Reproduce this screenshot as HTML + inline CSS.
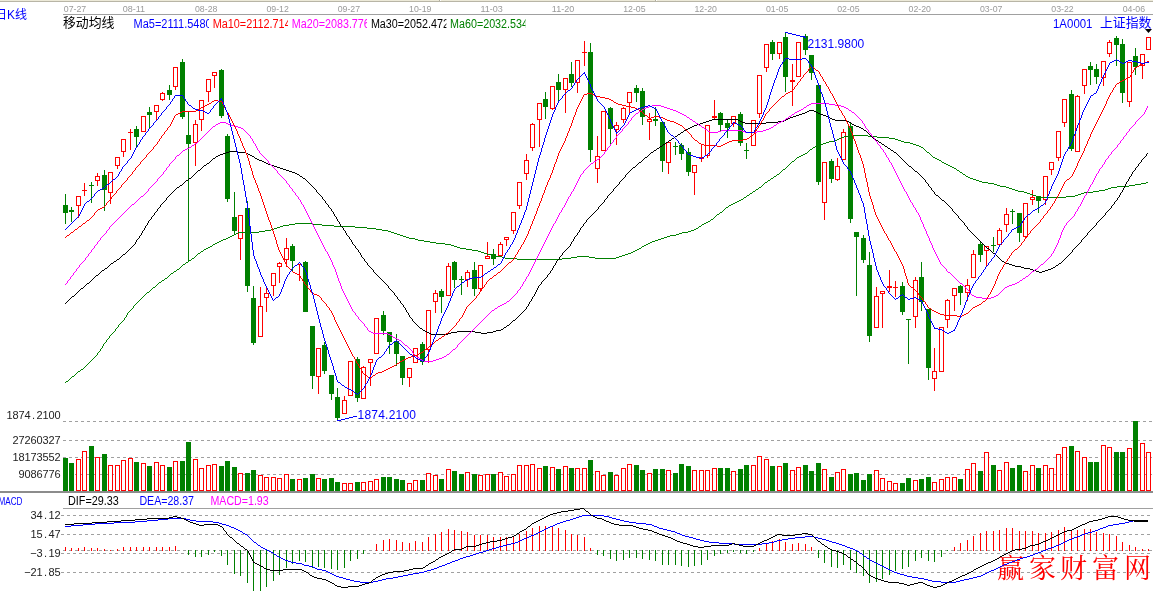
<!DOCTYPE html>
<html><head><meta charset="utf-8"><title>K</title><style>html,body{margin:0;padding:0;background:#fff}svg{display:block;will-change:transform}</style></head><body><svg width="1153" height="592" viewBox="0 0 1153 592" font-family="'Liberation Sans', sans-serif">
<rect width="1153" height="592" fill="#fff"/>
<rect x="0" y="0" width="1153" height="1" fill="#ece9d8"/><rect x="0" y="1" width="1153" height="1" fill="#b8b5a6"/><rect x="439" y="0" width="1" height="1" fill="#b0ad9e"/><rect x="440" y="0" width="1" height="1" fill="#fff"/><rect x="655" y="0" width="1" height="1" fill="#b0ad9e"/><rect x="656" y="0" width="1" height="1" fill="#fff"/>
<text x="63.8" y="12" fill="#9a9a9a" font-size="9.7" text-anchor="start" textLength="22.4" lengthAdjust="spacingAndGlyphs">07-27</text>
<text x="122.7" y="12" fill="#9a9a9a" font-size="9.7" text-anchor="start" textLength="22.4" lengthAdjust="spacingAndGlyphs">08-11</text>
<text x="195" y="12" fill="#9a9a9a" font-size="9.7" text-anchor="start" textLength="22.4" lengthAdjust="spacingAndGlyphs">08-28</text>
<text x="266.4" y="12" fill="#9a9a9a" font-size="9.7" text-anchor="start" textLength="22.4" lengthAdjust="spacingAndGlyphs">09-12</text>
<text x="337.7" y="12" fill="#9a9a9a" font-size="9.7" text-anchor="start" textLength="22.4" lengthAdjust="spacingAndGlyphs">09-27</text>
<text x="409.1" y="12" fill="#9a9a9a" font-size="9.7" text-anchor="start" textLength="22.4" lengthAdjust="spacingAndGlyphs">10-19</text>
<text x="480.4" y="12" fill="#9a9a9a" font-size="9.7" text-anchor="start" textLength="22.4" lengthAdjust="spacingAndGlyphs">11-03</text>
<text x="551.8" y="12" fill="#9a9a9a" font-size="9.7" text-anchor="start" textLength="22.4" lengthAdjust="spacingAndGlyphs">11-20</text>
<text x="623.2" y="12" fill="#9a9a9a" font-size="9.7" text-anchor="start" textLength="22.4" lengthAdjust="spacingAndGlyphs">12-05</text>
<text x="694.5" y="12" fill="#9a9a9a" font-size="9.7" text-anchor="start" textLength="22.4" lengthAdjust="spacingAndGlyphs">12-20</text>
<text x="765.9" y="12" fill="#9a9a9a" font-size="9.7" text-anchor="start" textLength="22.4" lengthAdjust="spacingAndGlyphs">01-05</text>
<text x="837.2" y="12" fill="#9a9a9a" font-size="9.7" text-anchor="start" textLength="22.4" lengthAdjust="spacingAndGlyphs">02-05</text>
<text x="908.6" y="12" fill="#9a9a9a" font-size="9.7" text-anchor="start" textLength="22.4" lengthAdjust="spacingAndGlyphs">02-20</text>
<text x="980" y="12" fill="#9a9a9a" font-size="9.7" text-anchor="start" textLength="22.4" lengthAdjust="spacingAndGlyphs">03-07</text>
<text x="1051.3" y="12" fill="#9a9a9a" font-size="9.7" text-anchor="start" textLength="22.4" lengthAdjust="spacingAndGlyphs">03-22</text>
<text x="1122.7" y="12" fill="#9a9a9a" font-size="9.7" text-anchor="start" textLength="22.4" lengthAdjust="spacingAndGlyphs">04-06</text>
<rect x="63" y="14" width="1090" height="1" fill="#a0a0a0"/>
<svg x="133.1" y="14" width="75.7" height="18" overflow="hidden"><text x="0.5" y="14" textLength="78" lengthAdjust="spacingAndGlyphs" fill="#0000ff" font-size="12">Ma5=2111.5480</text></svg>
<svg x="212.2" y="14" width="75.7" height="18" overflow="hidden"><text x="0.5" y="14" textLength="78" lengthAdjust="spacingAndGlyphs" fill="#ff0000" font-size="12">Ma10=2112.714</text></svg>
<svg x="291.3" y="14" width="75.7" height="18" overflow="hidden"><text x="0.5" y="14" textLength="78" lengthAdjust="spacingAndGlyphs" fill="#ff00ff" font-size="12">Ma20=2083.776</text></svg>
<svg x="370.4" y="14" width="75.7" height="18" overflow="hidden"><text x="0.5" y="14" textLength="78" lengthAdjust="spacingAndGlyphs" fill="#000000" font-size="12">Ma30=2052.472</text></svg>
<svg x="449.5" y="14" width="75.7" height="18" overflow="hidden"><text x="0.5" y="14" textLength="78" lengthAdjust="spacingAndGlyphs" fill="#008000" font-size="12">Ma60=2032.534</text></svg>
<text x="1053" y="27.6" fill="#0000ff" font-size="12.5" text-anchor="start" textLength="39.5" lengthAdjust="spacingAndGlyphs">1A0001</text>
<path d="M1145,29 h7 l-3.5,4 z" fill="#000"/>
<g shape-rendering="crispEdges">
<line x1="63" y1="421.5" x2="1153" y2="421.5" stroke="#a0a0a0" stroke-width="1" stroke-dasharray="3 3"/>
<line x1="63" y1="440.5" x2="1153" y2="440.5" stroke="#a0a0a0" stroke-width="1" stroke-dasharray="3 3"/>
<line x1="63" y1="457.5" x2="1153" y2="457.5" stroke="#a0a0a0" stroke-width="1" stroke-dasharray="3 3"/>
<line x1="63" y1="474.5" x2="1153" y2="474.5" stroke="#a0a0a0" stroke-width="1" stroke-dasharray="3 3"/>
<line x1="61" y1="515.5" x2="1153" y2="515.5" stroke="#a0a0a0" stroke-width="1" stroke-dasharray="3 3"/>
<line x1="61" y1="534.5" x2="1153" y2="534.5" stroke="#a0a0a0" stroke-width="1" stroke-dasharray="3 3"/>
<line x1="61" y1="553.5" x2="1153" y2="553.5" stroke="#a0a0a0" stroke-width="1" stroke-dasharray="3 3"/>
<line x1="61" y1="572.5" x2="1153" y2="572.5" stroke="#a0a0a0" stroke-width="1" stroke-dasharray="3 3"/>
<line x1="63" y1="550.5" x2="1153" y2="550.5" stroke="#a0a0a0" stroke-width="1" stroke-dasharray="3 3"/>
</g>
<g shape-rendering="crispEdges"><rect x="65" y="194" width="1" height="30" fill="#008000"/><rect x="63" y="205" width="5" height="8" fill="#008000"/><rect x="71" y="207" width="1" height="15" fill="#008000"/><rect x="69" y="210" width="5" height="2" fill="#008000"/><rect x="78" y="206" width="1" height="12" fill="#ff0000"/><rect x="76.5" y="196.5" width="4" height="9" fill="#fff" stroke="#ff0000" stroke-width="1"/><rect x="84" y="183" width="1" height="13" fill="#ff0000"/><rect x="82" y="190" width="5" height="1" fill="#ff0000"/><rect x="91" y="182" width="1" height="21" fill="#008000"/><rect x="89" y="185" width="5" height="1" fill="#008000"/><rect x="97" y="173" width="1" height="3" fill="#ff0000"/><rect x="97" y="181" width="1" height="5" fill="#ff0000"/><rect x="95.5" y="176.5" width="4" height="4" fill="#fff" stroke="#ff0000" stroke-width="1"/><rect x="104" y="170" width="1" height="41" fill="#008000"/><rect x="102" y="175" width="5" height="15" fill="#008000"/><rect x="110" y="193" width="1" height="11" fill="#ff0000"/><rect x="108.5" y="172.5" width="4" height="20" fill="#fff" stroke="#ff0000" stroke-width="1"/><rect x="117" y="166" width="1" height="3" fill="#ff0000"/><rect x="115.5" y="157.5" width="4" height="8" fill="#fff" stroke="#ff0000" stroke-width="1"/><rect x="123" y="152" width="1" height="5" fill="#ff0000"/><rect x="121.5" y="139.5" width="4" height="12" fill="#fff" stroke="#ff0000" stroke-width="1"/><rect x="130" y="129" width="1" height="21" fill="#ff0000"/><rect x="128" y="132" width="5" height="1" fill="#ff0000"/><rect x="136" y="126" width="1" height="21" fill="#008000"/><rect x="134" y="129" width="5" height="8" fill="#008000"/><rect x="141.5" y="116.5" width="4" height="15" fill="#fff" stroke="#ff0000" stroke-width="1"/><rect x="149" y="107" width="1" height="21" fill="#008000"/><rect x="147" y="112" width="5" height="3" fill="#008000"/><rect x="156" y="112" width="1" height="9" fill="#ff0000"/><rect x="154.5" y="105.5" width="4" height="6" fill="#fff" stroke="#ff0000" stroke-width="1"/><rect x="162" y="92" width="1" height="1" fill="#ff0000"/><rect x="162" y="100" width="1" height="1" fill="#ff0000"/><rect x="160.5" y="93.5" width="4" height="6" fill="#fff" stroke="#ff0000" stroke-width="1"/><rect x="169" y="85" width="1" height="15" fill="#008000"/><rect x="167" y="90" width="5" height="5" fill="#008000"/><rect x="175" y="87" width="1" height="3" fill="#ff0000"/><rect x="173.5" y="67.5" width="4" height="19" fill="#fff" stroke="#ff0000" stroke-width="1"/><rect x="182" y="59" width="1" height="60" fill="#008000"/><rect x="180" y="62" width="5" height="55" fill="#008000"/><rect x="188" y="111" width="1" height="150" fill="#008000"/><rect x="186" y="135" width="5" height="9" fill="#008000"/><rect x="195" y="120" width="1" height="4" fill="#ff0000"/><rect x="195" y="143" width="1" height="23" fill="#ff0000"/><rect x="193.5" y="124.5" width="4" height="18" fill="#fff" stroke="#ff0000" stroke-width="1"/><rect x="201" y="120" width="1" height="11" fill="#ff0000"/><rect x="199.5" y="100.5" width="4" height="19" fill="#fff" stroke="#ff0000" stroke-width="1"/><rect x="208" y="92" width="1" height="10" fill="#ff0000"/><rect x="206.5" y="79.5" width="4" height="12" fill="#fff" stroke="#ff0000" stroke-width="1"/><rect x="214" y="76" width="1" height="12" fill="#ff0000"/><rect x="212.5" y="72.5" width="4" height="3" fill="#fff" stroke="#ff0000" stroke-width="1"/><rect x="221" y="69" width="1" height="49" fill="#008000"/><rect x="219" y="70" width="5" height="46" fill="#008000"/><rect x="227" y="134" width="1" height="68" fill="#008000"/><rect x="225" y="136" width="5" height="63" fill="#008000"/><rect x="234" y="192" width="1" height="42" fill="#008000"/><rect x="232" y="217" width="5" height="14" fill="#008000"/><rect x="240" y="239" width="1" height="21" fill="#ff0000"/><rect x="238.5" y="215.5" width="4" height="23" fill="#fff" stroke="#ff0000" stroke-width="1"/><rect x="247" y="201" width="1" height="91" fill="#008000"/><rect x="245" y="208" width="5" height="78" fill="#008000"/><rect x="253" y="286" width="1" height="59" fill="#008000"/><rect x="251" y="298" width="5" height="45" fill="#008000"/><rect x="260" y="287" width="1" height="19" fill="#ff0000"/><rect x="258.5" y="306.5" width="4" height="30" fill="#fff" stroke="#ff0000" stroke-width="1"/><rect x="266" y="286" width="1" height="7" fill="#ff0000"/><rect x="266" y="298" width="1" height="14" fill="#ff0000"/><rect x="264.5" y="293.5" width="4" height="4" fill="#fff" stroke="#ff0000" stroke-width="1"/><rect x="273" y="286" width="1" height="10" fill="#ff0000"/><rect x="271.5" y="273.5" width="4" height="12" fill="#fff" stroke="#ff0000" stroke-width="1"/><rect x="279" y="262" width="1" height="1" fill="#ff0000"/><rect x="279" y="267" width="1" height="16" fill="#ff0000"/><rect x="277.5" y="263.5" width="4" height="3" fill="#fff" stroke="#ff0000" stroke-width="1"/><rect x="286" y="238" width="1" height="10" fill="#ff0000"/><rect x="286" y="260" width="1" height="7" fill="#ff0000"/><rect x="284.5" y="248.5" width="4" height="11" fill="#fff" stroke="#ff0000" stroke-width="1"/><rect x="292" y="244" width="1" height="27" fill="#008000"/><rect x="290" y="246" width="5" height="15" fill="#008000"/><rect x="299" y="264" width="1" height="17" fill="#ff0000"/><rect x="297" y="264" width="5" height="1" fill="#ff0000"/><rect x="305" y="261" width="1" height="51" fill="#008000"/><rect x="303" y="262" width="5" height="50" fill="#008000"/><rect x="312" y="326" width="1" height="63" fill="#008000"/><rect x="310" y="326" width="5" height="50" fill="#008000"/><rect x="318" y="377" width="1" height="17" fill="#ff0000"/><rect x="316.5" y="348.5" width="4" height="28" fill="#fff" stroke="#ff0000" stroke-width="1"/><rect x="324" y="342" width="1" height="32" fill="#008000"/><rect x="322" y="345" width="5" height="26" fill="#008000"/><rect x="331" y="375" width="1" height="25" fill="#008000"/><rect x="329" y="375" width="5" height="19" fill="#008000"/><rect x="337" y="388" width="1" height="33" fill="#008000"/><rect x="335" y="397" width="5" height="21" fill="#008000"/><rect x="344" y="396" width="1" height="4" fill="#ff0000"/><rect x="342.5" y="400.5" width="4" height="13" fill="#fff" stroke="#ff0000" stroke-width="1"/><rect x="348.5" y="361.5" width="4" height="34" fill="#fff" stroke="#ff0000" stroke-width="1"/><rect x="357" y="357" width="1" height="45" fill="#008000"/><rect x="355" y="359" width="5" height="39" fill="#008000"/><rect x="363" y="366" width="1" height="1" fill="#ff0000"/><rect x="361.5" y="367.5" width="4" height="31" fill="#fff" stroke="#ff0000" stroke-width="1"/><rect x="370" y="363" width="1" height="23" fill="#ff0000"/><rect x="368.5" y="359.5" width="4" height="3" fill="#fff" stroke="#ff0000" stroke-width="1"/><rect x="374.5" y="318.5" width="4" height="35" fill="#fff" stroke="#ff0000" stroke-width="1"/><rect x="383" y="311" width="1" height="24" fill="#008000"/><rect x="381" y="315" width="5" height="16" fill="#008000"/><rect x="389" y="332" width="1" height="22" fill="#008000"/><rect x="387" y="332" width="5" height="10" fill="#008000"/><rect x="396" y="334" width="1" height="32" fill="#008000"/><rect x="394" y="341" width="5" height="13" fill="#008000"/><rect x="402" y="356" width="1" height="29" fill="#008000"/><rect x="400" y="356" width="5" height="22" fill="#008000"/><rect x="409" y="378" width="1" height="9" fill="#ff0000"/><rect x="407.5" y="368.5" width="4" height="9" fill="#fff" stroke="#ff0000" stroke-width="1"/><rect x="413.5" y="348.5" width="4" height="14" fill="#fff" stroke="#ff0000" stroke-width="1"/><rect x="422" y="342" width="1" height="23" fill="#008000"/><rect x="420" y="344" width="5" height="18" fill="#008000"/><rect x="428" y="350" width="1" height="13" fill="#ff0000"/><rect x="426.5" y="310.5" width="4" height="39" fill="#fff" stroke="#ff0000" stroke-width="1"/><rect x="435" y="290" width="1" height="3" fill="#ff0000"/><rect x="435" y="302" width="1" height="11" fill="#ff0000"/><rect x="433.5" y="293.5" width="4" height="8" fill="#fff" stroke="#ff0000" stroke-width="1"/><rect x="441" y="289" width="1" height="24" fill="#008000"/><rect x="439" y="291" width="5" height="6" fill="#008000"/><rect x="448" y="263" width="1" height="3" fill="#ff0000"/><rect x="446.5" y="266.5" width="4" height="29" fill="#fff" stroke="#ff0000" stroke-width="1"/><rect x="454" y="261" width="1" height="27" fill="#008000"/><rect x="452" y="262" width="5" height="18" fill="#008000"/><rect x="461" y="276" width="1" height="19" fill="#008000"/><rect x="459" y="279" width="5" height="1" fill="#008000"/><rect x="467" y="270" width="1" height="2" fill="#ff0000"/><rect x="467" y="280" width="1" height="7" fill="#ff0000"/><rect x="465.5" y="272.5" width="4" height="7" fill="#fff" stroke="#ff0000" stroke-width="1"/><rect x="474" y="262" width="1" height="34" fill="#008000"/><rect x="472" y="270" width="5" height="19" fill="#008000"/><rect x="480" y="289" width="1" height="3" fill="#ff0000"/><rect x="478.5" y="265.5" width="4" height="23" fill="#fff" stroke="#ff0000" stroke-width="1"/><rect x="487" y="242" width="1" height="14" fill="#ff0000"/><rect x="485.5" y="256.5" width="4" height="2" fill="#fff" stroke="#ff0000" stroke-width="1"/><rect x="493" y="249" width="1" height="16" fill="#008000"/><rect x="491" y="254" width="5" height="5" fill="#008000"/><rect x="500" y="242" width="1" height="2" fill="#ff0000"/><rect x="498.5" y="244.5" width="4" height="11" fill="#fff" stroke="#ff0000" stroke-width="1"/><rect x="506" y="240" width="1" height="6" fill="#ff0000"/><rect x="504.5" y="237.5" width="4" height="2" fill="#fff" stroke="#ff0000" stroke-width="1"/><rect x="513" y="231" width="1" height="3" fill="#ff0000"/><rect x="511.5" y="212.5" width="4" height="18" fill="#fff" stroke="#ff0000" stroke-width="1"/><rect x="519" y="206" width="1" height="3" fill="#ff0000"/><rect x="517.5" y="182.5" width="4" height="23" fill="#fff" stroke="#ff0000" stroke-width="1"/><rect x="526" y="154" width="1" height="6" fill="#ff0000"/><rect x="526" y="174" width="1" height="6" fill="#ff0000"/><rect x="524.5" y="160.5" width="4" height="13" fill="#fff" stroke="#ff0000" stroke-width="1"/><rect x="532" y="123" width="1" height="1" fill="#ff0000"/><rect x="532" y="148" width="1" height="3" fill="#ff0000"/><rect x="530.5" y="124.5" width="4" height="23" fill="#fff" stroke="#ff0000" stroke-width="1"/><rect x="539" y="120" width="1" height="27" fill="#ff0000"/><rect x="537.5" y="103.5" width="4" height="16" fill="#fff" stroke="#ff0000" stroke-width="1"/><rect x="545" y="92" width="1" height="27" fill="#008000"/><rect x="543" y="99" width="5" height="8" fill="#008000"/><rect x="552" y="109" width="1" height="1" fill="#ff0000"/><rect x="550.5" y="86.5" width="4" height="22" fill="#fff" stroke="#ff0000" stroke-width="1"/><rect x="558" y="74" width="1" height="27" fill="#008000"/><rect x="556" y="82" width="5" height="8" fill="#008000"/><rect x="565" y="90" width="1" height="23" fill="#ff0000"/><rect x="563.5" y="78.5" width="4" height="11" fill="#fff" stroke="#ff0000" stroke-width="1"/><rect x="571" y="62" width="1" height="25" fill="#008000"/><rect x="569" y="74" width="5" height="9" fill="#008000"/><rect x="577" y="83" width="1" height="10" fill="#ff0000"/><rect x="575.5" y="60.5" width="4" height="22" fill="#fff" stroke="#ff0000" stroke-width="1"/><rect x="584" y="41" width="1" height="25" fill="#ff0000"/><rect x="582" y="52" width="5" height="1" fill="#ff0000"/><rect x="590" y="43" width="1" height="119" fill="#008000"/><rect x="588" y="52" width="5" height="98" fill="#008000"/><rect x="597" y="136" width="1" height="20" fill="#ff0000"/><rect x="597" y="169" width="1" height="14" fill="#ff0000"/><rect x="595.5" y="156.5" width="4" height="12" fill="#fff" stroke="#ff0000" stroke-width="1"/><rect x="601.5" y="111.5" width="4" height="39" fill="#fff" stroke="#ff0000" stroke-width="1"/><rect x="610" y="107" width="1" height="39" fill="#008000"/><rect x="608" y="108" width="5" height="21" fill="#008000"/><rect x="616" y="122" width="1" height="3" fill="#ff0000"/><rect x="616" y="130" width="1" height="15" fill="#ff0000"/><rect x="614.5" y="125.5" width="4" height="4" fill="#fff" stroke="#ff0000" stroke-width="1"/><rect x="623" y="107" width="1" height="1" fill="#ff0000"/><rect x="623" y="120" width="1" height="3" fill="#ff0000"/><rect x="621.5" y="108.5" width="4" height="11" fill="#fff" stroke="#ff0000" stroke-width="1"/><rect x="629" y="103" width="1" height="10" fill="#ff0000"/><rect x="627.5" y="92.5" width="4" height="10" fill="#fff" stroke="#ff0000" stroke-width="1"/><rect x="636" y="85" width="1" height="17" fill="#008000"/><rect x="634" y="88" width="5" height="5" fill="#008000"/><rect x="642" y="88" width="1" height="37" fill="#008000"/><rect x="640" y="91" width="5" height="26" fill="#008000"/><rect x="649" y="113" width="1" height="6" fill="#ff0000"/><rect x="649" y="122" width="1" height="18" fill="#ff0000"/><rect x="647.5" y="119.5" width="4" height="2" fill="#fff" stroke="#ff0000" stroke-width="1"/><rect x="655" y="107" width="1" height="19" fill="#008000"/><rect x="653" y="119" width="5" height="2" fill="#008000"/><rect x="662" y="122" width="1" height="50" fill="#008000"/><rect x="660" y="122" width="5" height="39" fill="#008000"/><rect x="668" y="163" width="1" height="11" fill="#ff0000"/><rect x="666.5" y="142.5" width="4" height="20" fill="#fff" stroke="#ff0000" stroke-width="1"/><rect x="675" y="142" width="1" height="13" fill="#008000"/><rect x="673" y="146" width="5" height="1" fill="#008000"/><rect x="681" y="143" width="1" height="17" fill="#008000"/><rect x="679" y="145" width="5" height="9" fill="#008000"/><rect x="688" y="148" width="1" height="28" fill="#008000"/><rect x="686" y="152" width="5" height="20" fill="#008000"/><rect x="694" y="173" width="1" height="22" fill="#ff0000"/><rect x="692.5" y="165.5" width="4" height="7" fill="#fff" stroke="#ff0000" stroke-width="1"/><rect x="701" y="145" width="1" height="17" fill="#ff0000"/><rect x="699" y="157" width="5" height="2" fill="#ff0000"/><rect x="707" y="156" width="1" height="2" fill="#ff0000"/><rect x="705.5" y="125.5" width="4" height="30" fill="#fff" stroke="#ff0000" stroke-width="1"/><rect x="714" y="100" width="1" height="19" fill="#ff0000"/><rect x="712" y="116" width="5" height="2" fill="#ff0000"/><rect x="720" y="112" width="1" height="19" fill="#008000"/><rect x="718" y="113" width="5" height="12" fill="#008000"/><rect x="727" y="120" width="1" height="18" fill="#008000"/><rect x="725" y="123" width="5" height="5" fill="#008000"/><rect x="733" y="124" width="1" height="3" fill="#ff0000"/><rect x="731.5" y="116.5" width="4" height="7" fill="#fff" stroke="#ff0000" stroke-width="1"/><rect x="740" y="112" width="1" height="34" fill="#008000"/><rect x="738" y="114" width="5" height="29" fill="#008000"/><rect x="746" y="143" width="1" height="16" fill="#008000"/><rect x="744" y="150" width="5" height="1" fill="#008000"/><rect x="751.5" y="120.5" width="4" height="25" fill="#fff" stroke="#ff0000" stroke-width="1"/><rect x="759" y="114" width="1" height="4" fill="#ff0000"/><rect x="757.5" y="75.5" width="4" height="38" fill="#fff" stroke="#ff0000" stroke-width="1"/><rect x="766" y="68" width="1" height="4" fill="#ff0000"/><rect x="764.5" y="44.5" width="4" height="23" fill="#fff" stroke="#ff0000" stroke-width="1"/><rect x="772" y="40" width="1" height="20" fill="#008000"/><rect x="770" y="42" width="5" height="12" fill="#008000"/><rect x="779" y="54" width="1" height="5" fill="#ff0000"/><rect x="777.5" y="42.5" width="4" height="11" fill="#fff" stroke="#ff0000" stroke-width="1"/><rect x="785" y="32" width="1" height="60" fill="#008000"/><rect x="783" y="37" width="5" height="40" fill="#008000"/><rect x="792" y="64" width="1" height="42" fill="#ff0000"/><rect x="790" y="80" width="5" height="2" fill="#ff0000"/><rect x="796.5" y="42.5" width="4" height="34" fill="#fff" stroke="#ff0000" stroke-width="1"/><rect x="805" y="34" width="1" height="21" fill="#008000"/><rect x="803" y="36" width="5" height="14" fill="#008000"/><rect x="811" y="55" width="1" height="25" fill="#008000"/><rect x="809" y="55" width="5" height="18" fill="#008000"/><rect x="818" y="85" width="1" height="100" fill="#008000"/><rect x="816" y="85" width="5" height="97" fill="#008000"/><rect x="824" y="203" width="1" height="17" fill="#ff0000"/><rect x="822.5" y="162.5" width="4" height="40" fill="#fff" stroke="#ff0000" stroke-width="1"/><rect x="831" y="159" width="1" height="24" fill="#008000"/><rect x="829" y="161" width="5" height="18" fill="#008000"/><rect x="837" y="158" width="1" height="8" fill="#ff0000"/><rect x="837" y="180" width="1" height="1" fill="#ff0000"/><rect x="835.5" y="166.5" width="4" height="13" fill="#fff" stroke="#ff0000" stroke-width="1"/><rect x="843" y="129" width="1" height="3" fill="#ff0000"/><rect x="841.5" y="132.5" width="4" height="27" fill="#fff" stroke="#ff0000" stroke-width="1"/><rect x="850" y="123" width="1" height="100" fill="#008000"/><rect x="848" y="126" width="5" height="93" fill="#008000"/><rect x="856" y="232" width="1" height="64" fill="#008000"/><rect x="854" y="232" width="5" height="5" fill="#008000"/><rect x="863" y="235" width="1" height="28" fill="#008000"/><rect x="861" y="238" width="5" height="22" fill="#008000"/><rect x="869" y="252" width="1" height="90" fill="#008000"/><rect x="867" y="265" width="5" height="71" fill="#008000"/><rect x="876" y="287" width="1" height="9" fill="#ff0000"/><rect x="874.5" y="296.5" width="4" height="31" fill="#fff" stroke="#ff0000" stroke-width="1"/><rect x="882" y="294" width="1" height="34" fill="#ff0000"/><rect x="880.5" y="291.5" width="4" height="2" fill="#fff" stroke="#ff0000" stroke-width="1"/><rect x="889" y="270" width="1" height="22" fill="#ff0000"/><rect x="887" y="286" width="5" height="2" fill="#ff0000"/><rect x="895" y="281" width="1" height="16" fill="#ff0000"/><rect x="893" y="287" width="5" height="1" fill="#ff0000"/><rect x="902" y="282" width="1" height="33" fill="#008000"/><rect x="900" y="286" width="5" height="26" fill="#008000"/><rect x="908" y="319" width="1" height="45" fill="#008000"/><rect x="906" y="319" width="5" height="1" fill="#008000"/><rect x="915" y="277" width="1" height="3" fill="#ff0000"/><rect x="915" y="317" width="1" height="11" fill="#ff0000"/><rect x="913.5" y="280.5" width="4" height="36" fill="#fff" stroke="#ff0000" stroke-width="1"/><rect x="921" y="262" width="1" height="49" fill="#008000"/><rect x="919" y="277" width="5" height="25" fill="#008000"/><rect x="928" y="309" width="1" height="71" fill="#008000"/><rect x="926" y="309" width="5" height="59" fill="#008000"/><rect x="934" y="348" width="1" height="23" fill="#ff0000"/><rect x="934" y="379" width="1" height="12" fill="#ff0000"/><rect x="932.5" y="371.5" width="4" height="7" fill="#fff" stroke="#ff0000" stroke-width="1"/><rect x="939.5" y="327.5" width="4" height="44" fill="#fff" stroke="#ff0000" stroke-width="1"/><rect x="947" y="299" width="1" height="1" fill="#ff0000"/><rect x="947" y="320" width="1" height="8" fill="#ff0000"/><rect x="945.5" y="300.5" width="4" height="19" fill="#fff" stroke="#ff0000" stroke-width="1"/><rect x="954" y="296" width="1" height="15" fill="#ff0000"/><rect x="952.5" y="288.5" width="4" height="7" fill="#fff" stroke="#ff0000" stroke-width="1"/><rect x="960" y="285" width="1" height="20" fill="#008000"/><rect x="958" y="286" width="5" height="7" fill="#008000"/><rect x="967" y="279" width="1" height="6" fill="#ff0000"/><rect x="967" y="293" width="1" height="8" fill="#ff0000"/><rect x="965.5" y="285.5" width="4" height="7" fill="#fff" stroke="#ff0000" stroke-width="1"/><rect x="973" y="250" width="1" height="4" fill="#ff0000"/><rect x="971.5" y="254.5" width="4" height="23" fill="#fff" stroke="#ff0000" stroke-width="1"/><rect x="980" y="241" width="1" height="21" fill="#008000"/><rect x="978" y="244" width="5" height="11" fill="#008000"/><rect x="986" y="251" width="1" height="15" fill="#ff0000"/><rect x="984.5" y="246.5" width="4" height="4" fill="#fff" stroke="#ff0000" stroke-width="1"/><rect x="993" y="237" width="1" height="15" fill="#008000"/><rect x="991" y="245" width="5" height="1" fill="#008000"/><rect x="999" y="228" width="1" height="2" fill="#ff0000"/><rect x="999" y="245" width="1" height="1" fill="#ff0000"/><rect x="997.5" y="230.5" width="4" height="14" fill="#fff" stroke="#ff0000" stroke-width="1"/><rect x="1006" y="208" width="1" height="6" fill="#ff0000"/><rect x="1006" y="225" width="1" height="7" fill="#ff0000"/><rect x="1004.5" y="214.5" width="4" height="10" fill="#fff" stroke="#ff0000" stroke-width="1"/><rect x="1012" y="209" width="1" height="15" fill="#008000"/><rect x="1010" y="211" width="5" height="1" fill="#008000"/><rect x="1019" y="213" width="1" height="29" fill="#008000"/><rect x="1017" y="213" width="5" height="20" fill="#008000"/><rect x="1025" y="237" width="1" height="1" fill="#ff0000"/><rect x="1023.5" y="203.5" width="4" height="33" fill="#fff" stroke="#ff0000" stroke-width="1"/><rect x="1032" y="190" width="1" height="7" fill="#ff0000"/><rect x="1032" y="200" width="1" height="5" fill="#ff0000"/><rect x="1030.5" y="197.5" width="4" height="2" fill="#fff" stroke="#ff0000" stroke-width="1"/><rect x="1038" y="196" width="1" height="17" fill="#008000"/><rect x="1036" y="196" width="5" height="5" fill="#008000"/><rect x="1045" y="200" width="1" height="5" fill="#ff0000"/><rect x="1043.5" y="176.5" width="4" height="23" fill="#fff" stroke="#ff0000" stroke-width="1"/><rect x="1051" y="170" width="1" height="5" fill="#ff0000"/><rect x="1049.5" y="162.5" width="4" height="7" fill="#fff" stroke="#ff0000" stroke-width="1"/><rect x="1058" y="158" width="1" height="3" fill="#ff0000"/><rect x="1056.5" y="131.5" width="4" height="26" fill="#fff" stroke="#ff0000" stroke-width="1"/><rect x="1064" y="123" width="1" height="4" fill="#ff0000"/><rect x="1062.5" y="99.5" width="4" height="23" fill="#fff" stroke="#ff0000" stroke-width="1"/><rect x="1071" y="90" width="1" height="61" fill="#008000"/><rect x="1069" y="94" width="5" height="55" fill="#008000"/><rect x="1077" y="95" width="1" height="1" fill="#ff0000"/><rect x="1075.5" y="96.5" width="4" height="55" fill="#fff" stroke="#ff0000" stroke-width="1"/><rect x="1084" y="86" width="1" height="8" fill="#ff0000"/><rect x="1082.5" y="69.5" width="4" height="16" fill="#fff" stroke="#ff0000" stroke-width="1"/><rect x="1090" y="62" width="1" height="23" fill="#008000"/><rect x="1088" y="66" width="5" height="4" fill="#008000"/><rect x="1096" y="64" width="1" height="20" fill="#008000"/><rect x="1094" y="69" width="5" height="8" fill="#008000"/><rect x="1103" y="78" width="1" height="8" fill="#ff0000"/><rect x="1101.5" y="61.5" width="4" height="16" fill="#fff" stroke="#ff0000" stroke-width="1"/><rect x="1109" y="40" width="1" height="2" fill="#ff0000"/><rect x="1109" y="54" width="1" height="3" fill="#ff0000"/><rect x="1107.5" y="42.5" width="4" height="11" fill="#fff" stroke="#ff0000" stroke-width="1"/><rect x="1116" y="36" width="1" height="30" fill="#008000"/><rect x="1114" y="38" width="5" height="7" fill="#008000"/><rect x="1122" y="39" width="1" height="64" fill="#008000"/><rect x="1120" y="44" width="5" height="49" fill="#008000"/><rect x="1129" y="102" width="1" height="5" fill="#ff0000"/><rect x="1127.5" y="62.5" width="4" height="39" fill="#fff" stroke="#ff0000" stroke-width="1"/><rect x="1135" y="48" width="1" height="27" fill="#008000"/><rect x="1133" y="56" width="5" height="11" fill="#008000"/><rect x="1142" y="66" width="1" height="13" fill="#ff0000"/><rect x="1140.5" y="54.5" width="4" height="11" fill="#fff" stroke="#ff0000" stroke-width="1"/><rect x="1146.5" y="37.5" width="4" height="12" fill="#fff" stroke="#ff0000" stroke-width="1"/></g>
<g shape-rendering="crispEdges"><path d="M65,382h1v1h-1zM66,381h2v1h-2zM68,380h1v1h-1zM69,379h1v1h-1zM70,378h1v1h-1zM71,377h1v1h-1zM72,376h2v1h-2zM74,375h1v1h-1zM75,374h1v1h-1zM76,373h1v1h-1zM77,372h1v1h-1zM78,371h2v1h-2zM80,370h1v1h-1zM81,369h2v1h-2zM83,368h1v1h-1zM84,367h1v1h-1zM85,366h1v1h-1zM86,365h1v1h-1zM87,364h1v1h-1zM88,363h1v1h-1zM89,362h1v1h-1zM90,361h1v1h-1zM91,360h1v1h-1zM92,359h1v1h-1zM93,358h1v1h-1zM94,357h1v1h-1zM95,356h1v1h-1zM96,355h1v1h-1zM97,353v2h1v-2zM98,352h1v1h-1zM99,351h1v1h-1zM100,349v2h1v-2zM101,348h1v1h-1zM102,346v2h1v-2zM103,344v2h1v-2zM104,343h1v1h-1zM105,342h1v1h-1zM106,340v2h1v-2zM107,339h1v1h-1zM108,338h1v1h-1zM109,336v2h1v-2zM110,335h1v1h-1zM111,334h1v1h-1zM112,333h1v1h-1zM113,332h1v1h-1zM114,331h1v1h-1zM115,329v2h1v-2zM116,328h1v1h-1zM117,327h1v1h-1zM118,325v2h1v-2zM119,324h1v1h-1zM120,323h1v1h-1zM121,322h1v1h-1zM122,321h1v1h-1zM123,320h1v1h-1zM124,318v2h1v-2zM125,317h1v1h-1zM126,315v2h1v-2zM127,313v2h1v-2zM128,312h1v1h-1zM129,311h1v1h-1zM130,310h1v1h-1zM131,309h1v1h-1zM132,308h1v1h-1zM133,306v2h1v-2zM134,305h1v1h-1zM135,304h1v1h-1zM136,303h1v1h-1zM137,302h1v1h-1zM138,301h1v1h-1zM139,300h1v1h-1zM140,299h1v1h-1zM141,298h1v1h-1zM142,297h1v1h-1zM143,296h1v1h-1zM144,295h1v1h-1zM145,294h1v1h-1zM146,293h1v1h-1zM147,292h2v1h-2zM149,291h1v1h-1zM150,290h1v1h-1zM151,289h1v1h-1zM152,288h1v1h-1zM153,287h2v1h-2zM155,286h1v1h-1zM156,285h1v1h-1zM157,284h1v1h-1zM158,283h1v1h-1zM159,282h2v1h-2zM161,281h1v1h-1zM162,280h2v1h-2zM164,279h1v1h-1zM165,278h2v1h-2zM167,277h1v1h-1zM168,276h1v1h-1zM169,275h1v1h-1zM170,274h1v1h-1zM171,273h2v1h-2zM173,272h1v1h-1zM174,271h2v1h-2zM176,270h1v1h-1zM177,269h2v1h-2zM179,268h1v1h-1zM180,267h1v1h-1zM181,266h1v1h-1zM182,265h1v1h-1zM183,264h2v1h-2zM185,263h1v1h-1zM186,262h2v1h-2zM188,261h1v1h-1zM189,260h2v1h-2zM191,259h1v1h-1zM192,258h2v1h-2zM194,257h1v1h-1zM195,256h1v1h-1zM196,255h1v1h-1zM197,254h1v1h-1zM198,253h2v1h-2zM200,252h1v1h-1zM201,251h2v1h-2zM203,250h1v1h-1zM204,249h2v1h-2zM206,248h2v1h-2zM208,247h2v1h-2zM210,246h2v1h-2zM212,245h1v1h-1zM213,244h2v1h-2zM215,243h2v1h-2zM217,242h2v1h-2zM219,241h2v1h-2zM221,240h2v1h-2zM223,239h3v1h-3zM226,238h2v1h-2zM228,237h2v1h-2zM230,236h2v1h-2zM232,235h2v1h-2zM234,234h2v1h-2zM236,233h2v1h-2zM238,232h21v1h-21zM259,231h6v1h-6zM265,230h6v1h-6zM271,229h3v1h-3zM274,228h3v1h-3zM277,227h3v1h-3zM280,226h3v1h-3zM283,225h6v1h-6zM289,224h6v1h-6zM295,223h18v1h-18zM313,224h9v1h-9zM322,225h12v1h-12zM334,226h21v1h-21zM355,227h12v1h-12zM367,228h9v1h-9zM376,229h6v1h-6zM382,230h6v1h-6zM388,231h3v1h-3zM391,232h3v1h-3zM394,233h3v1h-3zM397,234h3v1h-3zM400,235h3v1h-3zM403,236h3v1h-3zM406,237h3v1h-3zM409,238h6v1h-6zM415,239h3v1h-3zM418,240h6v1h-6zM424,241h6v1h-6zM430,242h6v1h-6zM436,243h9v1h-9zM445,244h6v1h-6zM451,245h3v1h-3zM454,246h3v1h-3zM457,247h3v1h-3zM460,248h6v1h-6zM466,249h6v1h-6zM472,250h6v1h-6zM478,251h3v1h-3zM481,252h3v1h-3zM484,253h3v1h-3zM487,254h6v1h-6zM493,255h3v1h-3zM496,256h6v1h-6zM502,257h3v1h-3zM505,258h12v1h-12zM517,259h45v1h-45zM562,258h9v1h-9zM571,257h6v1h-6zM577,256h12v1h-12zM589,257h6v1h-6zM595,258h21v1h-21zM616,257h3v1h-3zM619,256h3v1h-3zM622,255h3v1h-3zM625,254h3v1h-3zM628,253h3v1h-3zM631,252h2v1h-2zM633,251h2v1h-2zM635,250h2v1h-2zM637,249h2v1h-2zM639,248h2v1h-2zM641,247h1v1h-1zM642,246h2v1h-2zM644,245h2v1h-2zM646,244h2v1h-2zM648,243h2v1h-2zM650,242h2v1h-2zM652,241h3v1h-3zM655,240h3v1h-3zM658,239h3v1h-3zM661,238h3v1h-3zM664,237h3v1h-3zM667,236h3v1h-3zM670,235h6v1h-6zM676,234h3v1h-3zM679,233h3v1h-3zM682,232h6v1h-6zM688,231h3v1h-3zM691,230h3v1h-3zM694,229h2v1h-2zM696,228h2v1h-2zM698,227h1v1h-1zM699,226h2v1h-2zM701,225h1v1h-1zM702,224h2v1h-2zM704,223h2v1h-2zM706,222h2v1h-2zM708,221h2v1h-2zM710,220h1v1h-1zM711,219h2v1h-2zM713,218h1v1h-1zM714,217h1v1h-1zM715,216h1v1h-1zM716,215h1v1h-1zM717,214h2v1h-2zM719,213h1v1h-1zM720,212h2v1h-2zM722,211h1v1h-1zM723,210h1v1h-1zM724,209h1v1h-1zM725,208h1v1h-1zM726,207h2v1h-2zM728,206h1v1h-1zM729,205h2v1h-2zM731,204h2v1h-2zM733,203h2v1h-2zM735,202h2v1h-2zM737,201h2v1h-2zM739,200h2v1h-2zM741,199h2v1h-2zM743,198h1v1h-1zM744,197h2v1h-2zM746,196h1v1h-1zM747,195h2v1h-2zM749,194h1v1h-1zM750,193h2v1h-2zM752,192h1v1h-1zM753,191h2v1h-2zM755,190h1v1h-1zM756,189h2v1h-2zM758,188h1v1h-1zM759,187h2v1h-2zM761,186h1v1h-1zM762,185h1v1h-1zM763,184h1v1h-1zM764,183h1v1h-1zM765,182h2v1h-2zM767,181h1v1h-1zM768,180h2v1h-2zM770,179h1v1h-1zM771,178h2v1h-2zM773,177h1v1h-1zM774,176h2v1h-2zM776,175h1v1h-1zM777,174h2v1h-2zM779,173h1v1h-1zM780,172h1v1h-1zM781,171h1v1h-1zM782,170h1v1h-1zM783,169h2v1h-2zM785,168h1v1h-1zM786,167h1v1h-1zM787,166h1v1h-1zM788,165h1v1h-1zM789,164h1v1h-1zM790,163h1v1h-1zM791,162h1v1h-1zM792,161h2v1h-2zM794,160h1v1h-1zM795,159h1v1h-1zM796,158h1v1h-1zM797,157h2v1h-2zM799,156h2v1h-2zM801,155h2v1h-2zM803,154h2v1h-2zM805,153h2v1h-2zM807,152h1v1h-1zM808,151h1v1h-1zM809,150h1v1h-1zM810,149h2v1h-2zM812,148h1v1h-1zM813,147h2v1h-2zM815,146h2v1h-2zM817,145h3v1h-3zM820,144h3v1h-3zM823,143h3v1h-3zM826,142h3v1h-3zM829,141h6v1h-6zM835,140h2v1h-2zM837,139h2v1h-2zM839,138h2v1h-2zM841,137h3v1h-3zM844,136h6v1h-6zM850,135h18v1h-18zM868,136h9v1h-9zM877,137h12v1h-12zM889,138h6v1h-6zM895,139h3v1h-3zM898,140h3v1h-3zM901,141h3v1h-3zM904,142h6v1h-6zM910,143h3v1h-3zM913,144h3v1h-3zM916,145h3v1h-3zM919,146h2v1h-2zM921,147h2v1h-2zM923,148h1v1h-1zM924,149h1v1h-1zM925,150h1v1h-1zM926,151h1v1h-1zM927,152h2v1h-2zM929,153h1v1h-1zM930,154h1v1h-1zM931,155h1v1h-1zM932,156h1v1h-1zM933,157h2v1h-2zM935,158h2v1h-2zM937,159h2v1h-2zM939,160h2v1h-2zM941,161h1v1h-1zM942,162h2v1h-2zM944,163h2v1h-2zM946,164h2v1h-2zM948,165h2v1h-2zM950,166h2v1h-2zM952,167h2v1h-2zM954,168h2v1h-2zM956,169h1v1h-1zM957,170h2v1h-2zM959,171h1v1h-1zM960,172h2v1h-2zM962,173h1v1h-1zM963,174h2v1h-2zM965,175h1v1h-1zM966,176h2v1h-2zM968,177h2v1h-2zM970,178h3v1h-3zM973,179h3v1h-3zM976,180h3v1h-3zM979,181h3v1h-3zM982,182h6v1h-6zM988,183h6v1h-6zM994,184h3v1h-3zM997,185h3v1h-3zM1000,186h6v1h-6zM1006,187h3v1h-3zM1009,188h3v1h-3zM1012,189h3v1h-3zM1015,190h3v1h-3zM1018,191h6v1h-6zM1024,192h3v1h-3zM1027,193h3v1h-3zM1030,194h3v1h-3zM1033,195h3v1h-3zM1036,196h3v1h-3zM1039,197h27v1h-27zM1066,196h9v1h-9zM1075,195h3v1h-3zM1078,194h3v1h-3zM1081,193h3v1h-3zM1084,192h9v1h-9zM1093,191h6v1h-6zM1099,190h6v1h-6zM1105,189h3v1h-3zM1108,188h3v1h-3zM1111,187h6v1h-6zM1117,186h12v1h-12zM1129,185h6v1h-6zM1135,184h6v1h-6zM1141,183h5v1h-5zM1146,182h2v1h-2z" fill="#008000"/><path d="M65,303h1v1h-1zM66,302h1v1h-1zM67,301h1v1h-1zM68,300h1v1h-1zM69,299h1v1h-1zM70,298h1v1h-1zM71,297h1v1h-1zM72,296h2v1h-2zM74,295h1v1h-1zM75,294h1v1h-1zM76,293h1v1h-1zM77,292h1v1h-1zM78,291h1v1h-1zM79,290h1v1h-1zM80,289h1v1h-1zM81,288h2v1h-2zM83,287h1v1h-1zM84,286h1v1h-1zM85,285h1v1h-1zM86,284h1v1h-1zM87,283h2v1h-2zM89,282h1v1h-1zM90,281h1v1h-1zM91,280h1v1h-1zM92,279h1v1h-1zM93,278h1v1h-1zM94,277h1v1h-1zM95,276h1v1h-1zM96,275h2v1h-2zM98,274h1v1h-1zM99,273h1v1h-1zM100,272h1v1h-1zM101,271h1v1h-1zM102,270h2v1h-2zM104,269h1v1h-1zM105,268h2v1h-2zM107,267h1v1h-1zM108,266h1v1h-1zM109,265h1v1h-1zM110,264h1v1h-1zM111,263h2v1h-2zM113,262h1v1h-1zM114,261h2v1h-2zM116,260h1v1h-1zM117,259h2v1h-2zM119,258h1v1h-1zM120,257h1v1h-1zM121,256h1v1h-1zM122,255h1v1h-1zM123,254h2v1h-2zM125,253h1v1h-1zM126,252h1v1h-1zM127,251h1v1h-1zM128,250h1v1h-1zM129,249h1v1h-1zM130,248h1v1h-1zM131,247h1v1h-1zM132,246h1v1h-1zM133,245h1v1h-1zM134,244h1v1h-1zM135,242v2h1v-2zM136,240v2h1v-2zM137,239h1v1h-1zM138,238h1v1h-1zM139,236v2h1v-2zM140,235h1v1h-1zM141,233v2h1v-2zM142,231v2h1v-2zM143,230h1v1h-1zM144,228v2h1v-2zM145,226v2h1v-2zM146,225h1v1h-1zM147,223v2h1v-2zM148,221v2h1v-2zM149,220h1v1h-1zM150,219h1v1h-1zM151,217v2h1v-2zM152,216h1v1h-1zM153,215h1v1h-1zM154,213v2h1v-2zM155,212h1v1h-1zM156,211h1v1h-1zM157,209v2h1v-2zM158,208h1v1h-1zM159,207h1v1h-1zM160,205v2h1v-2zM161,204h1v1h-1zM162,203h1v1h-1zM163,202h1v1h-1zM164,201h1v1h-1zM165,200h1v1h-1zM166,198v2h1v-2zM167,197h1v1h-1zM168,196h1v1h-1zM169,195h1v1h-1zM170,194h1v1h-1zM171,193h1v1h-1zM172,192h1v1h-1zM173,191h1v1h-1zM174,190h1v1h-1zM175,189h1v1h-1zM176,188h1v1h-1zM177,187h2v1h-2zM179,186h1v1h-1zM180,185h2v1h-2zM182,184h1v1h-1zM183,183h1v1h-1zM184,182h1v1h-1zM185,181h1v1h-1zM186,180h2v1h-2zM188,179h1v1h-1zM189,178h2v1h-2zM191,177h1v1h-1zM192,176h1v1h-1zM193,175h1v1h-1zM194,174h1v1h-1zM195,173h1v1h-1zM196,172h1v1h-1zM197,171h1v1h-1zM198,170h2v1h-2zM200,169h1v1h-1zM201,168h1v1h-1zM202,167h1v1h-1zM203,166h1v1h-1zM204,165h2v1h-2zM206,164h1v1h-1zM207,163h2v1h-2zM209,162h1v1h-1zM210,161h1v1h-1zM211,160h1v1h-1zM212,159h1v1h-1zM213,158h2v1h-2zM215,157h1v1h-1zM216,156h2v1h-2zM218,155h2v1h-2zM220,154h3v1h-3zM223,153h3v1h-3zM226,152h3v1h-3zM229,151h9v1h-9zM238,152h8v1h-8zM246,153h2v1h-2zM248,154h2v1h-2zM250,155h2v1h-2zM252,156h2v1h-2zM254,157h1v1h-1zM255,158h2v1h-2zM257,159h2v1h-2zM259,160h3v1h-3zM262,161h2v1h-2zM264,162h2v1h-2zM266,163h2v1h-2zM268,164h3v1h-3zM271,165h3v1h-3zM274,166h3v1h-3zM277,167h3v1h-3zM280,168h3v1h-3zM283,169h3v1h-3zM286,170h3v1h-3zM289,171h3v1h-3zM292,172h3v1h-3zM295,173h2v1h-2zM297,174h2v1h-2zM299,175h1v1h-1zM300,176h2v1h-2zM302,177h1v1h-1zM303,178h2v1h-2zM305,179h1v1h-1zM306,180h1v1h-1zM307,181h1v1h-1zM308,182h1v1h-1zM309,183h1v1h-1zM310,184h1v1h-1zM311,185h1v1h-1zM312,186h1v1h-1zM313,187h1v1h-1zM314,188h1v1h-1zM315,189h1v1h-1zM316,190v2h1v-2zM317,192h1v1h-1zM318,193h1v1h-1zM319,194h1v1h-1zM320,195h1v1h-1zM321,196h1v1h-1zM322,197v2h1v-2zM323,199h1v1h-1zM324,200h1v1h-1zM325,201v2h1v-2zM326,203h1v1h-1zM327,204h1v1h-1zM328,205v2h1v-2zM329,207h1v1h-1zM330,208h1v1h-1zM331,209v2h1v-2zM332,211h1v1h-1zM333,212v2h1v-2zM334,214v2h1v-2zM335,216h1v1h-1zM336,217v2h1v-2zM337,219v2h1v-2zM338,221h1v1h-1zM339,222v2h1v-2zM340,224v2h1v-2zM341,226h1v1h-1zM342,227h1v1h-1zM343,228v2h1v-2zM344,230h1v1h-1zM345,231v2h1v-2zM346,233v2h1v-2zM347,235h1v1h-1zM348,236h1v1h-1zM349,237v2h1v-2zM350,239h1v1h-1zM351,240v2h1v-2zM352,242v2h1v-2zM353,244h1v1h-1zM354,245h1v1h-1zM355,246v2h1v-2zM356,248h1v1h-1zM357,249h1v1h-1zM358,250v2h1v-2zM359,252h1v1h-1zM360,253v2h1v-2zM361,255v2h1v-2zM362,257h1v1h-1zM363,258h1v1h-1zM364,259v2h1v-2zM365,261h1v1h-1zM366,262h1v1h-1zM367,263v2h1v-2zM368,265h1v1h-1zM369,266h1v1h-1zM370,267h1v1h-1zM371,268h1v1h-1zM372,269h1v1h-1zM373,270v2h1v-2zM374,272h1v1h-1zM375,273h1v1h-1zM376,274h1v1h-1zM377,275h1v1h-1zM378,276h1v1h-1zM379,277h1v1h-1zM380,278h1v1h-1zM381,279h1v1h-1zM382,280h1v1h-1zM383,281h1v1h-1zM384,282h1v1h-1zM385,283h1v1h-1zM386,284h1v1h-1zM387,285h1v1h-1zM388,286v2h1v-2zM389,288h1v1h-1zM390,289h1v1h-1zM391,290h1v1h-1zM392,291h1v1h-1zM393,292h1v1h-1zM394,293v2h1v-2zM395,295h1v1h-1zM396,296h1v1h-1zM397,297v2h1v-2zM398,299h1v1h-1zM399,300h1v1h-1zM400,301v2h1v-2zM401,303h1v1h-1zM402,304h1v1h-1zM403,305v2h1v-2zM404,307h1v1h-1zM405,308v2h1v-2zM406,310v2h1v-2zM407,312h1v1h-1zM408,313v2h1v-2zM409,315v2h1v-2zM410,317h1v1h-1zM411,318h1v1h-1zM412,319v2h1v-2zM413,321h1v1h-1zM414,322h1v1h-1zM415,323h1v1h-1zM416,324h1v1h-1zM417,325h1v1h-1zM418,326h1v1h-1zM419,327h1v1h-1zM420,328h2v1h-2zM422,329h1v1h-1zM423,330h2v1h-2zM425,331h2v1h-2zM427,332h2v1h-2zM429,333h2v1h-2zM431,334h17v1h-17zM448,333h3v1h-3zM451,332h6v1h-6zM457,331h18v1h-18zM475,332h6v1h-6zM481,333h6v1h-6zM487,332h6v1h-6zM493,331h3v1h-3zM496,330h5v1h-5zM501,329h2v1h-2zM503,328h1v1h-1zM504,327h2v1h-2zM506,326h1v1h-1zM507,325h2v1h-2zM509,324h1v1h-1zM510,323h1v1h-1zM511,322h1v1h-1zM512,321h1v1h-1zM513,320h2v1h-2zM515,319h1v1h-1zM516,318h1v1h-1zM517,317h1v1h-1zM518,316h1v1h-1zM519,315h1v1h-1zM520,314h1v1h-1zM521,313h1v1h-1zM522,312h1v1h-1zM523,311h1v1h-1zM524,310h1v1h-1zM525,309h1v1h-1zM526,307v2h1v-2zM527,306h1v1h-1zM528,304v2h1v-2zM529,302v2h1v-2zM530,301h1v1h-1zM531,299v2h1v-2zM532,297v2h1v-2zM533,296h1v1h-1zM534,294v2h1v-2zM535,292v2h1v-2zM536,290v2h1v-2zM537,288v2h1v-2zM538,286v2h1v-2zM539,285h1v1h-1zM540,284h1v1h-1zM541,282v2h1v-2zM542,281h1v1h-1zM543,280h1v1h-1zM544,279h1v1h-1zM545,278h1v1h-1zM546,277h1v1h-1zM547,275v2h1v-2zM548,274h1v1h-1zM549,273h1v1h-1zM550,271v2h1v-2zM551,270h1v1h-1zM552,268v2h1v-2zM553,266v2h1v-2zM554,265h1v1h-1zM555,263v2h1v-2zM556,261v2h1v-2zM557,260h1v1h-1zM558,259h1v1h-1zM559,257v2h1v-2zM560,256h1v1h-1zM561,255h1v1h-1zM562,253v2h1v-2zM563,252h1v1h-1zM564,251h1v1h-1zM565,250h1v1h-1zM566,249h1v1h-1zM567,248h1v1h-1zM568,247h1v1h-1zM569,246h1v1h-1zM570,244v2h1v-2zM571,242v2h1v-2zM572,241h1v1h-1zM573,239v2h1v-2zM574,237v2h1v-2zM575,236h1v1h-1zM576,235h1v1h-1zM577,233v2h1v-2zM578,232h1v1h-1zM579,230v2h1v-2zM580,228v2h1v-2zM581,227h1v1h-1zM582,226h1v1h-1zM583,224v2h1v-2zM584,223h1v1h-1zM585,222h1v1h-1zM586,220v2h1v-2zM587,219h1v1h-1zM588,218h1v1h-1zM589,217h1v1h-1zM590,216h1v1h-1zM591,215h1v1h-1zM592,214h1v1h-1zM593,213h1v1h-1zM594,212h1v1h-1zM595,211h1v1h-1zM596,210h1v1h-1zM597,209h1v1h-1zM598,207v2h1v-2zM599,206h1v1h-1zM600,205h1v1h-1zM601,204h1v1h-1zM602,203h1v1h-1zM603,202h1v1h-1zM604,200v2h1v-2zM605,199h1v1h-1zM606,198h1v1h-1zM607,196v2h1v-2zM608,195h1v1h-1zM609,194h1v1h-1zM610,193h1v1h-1zM611,192h1v1h-1zM612,191h1v1h-1zM613,189v2h1v-2zM614,188h1v1h-1zM615,187h1v1h-1zM616,186h1v1h-1zM617,185h1v1h-1zM618,184h1v1h-1zM619,182v2h1v-2zM620,181h1v1h-1zM621,180h1v1h-1zM622,179h1v1h-1zM623,178h1v1h-1zM624,177h1v1h-1zM625,175v2h1v-2zM626,174h1v1h-1zM627,173h1v1h-1zM628,172h1v1h-1zM629,171h1v1h-1zM630,170h1v1h-1zM631,169h1v1h-1zM632,168h1v1h-1zM633,167h2v1h-2zM635,166h1v1h-1zM636,165h1v1h-1zM637,164h1v1h-1zM638,163h1v1h-1zM639,162h2v1h-2zM641,161h1v1h-1zM642,160h1v1h-1zM643,159h1v1h-1zM644,158h1v1h-1zM645,157h2v1h-2zM647,156h1v1h-1zM648,155h1v1h-1zM649,154h1v1h-1zM650,153h1v1h-1zM651,152h2v1h-2zM653,151h1v1h-1zM654,150h2v1h-2zM656,149h1v1h-1zM657,148h2v1h-2zM659,147h1v1h-1zM660,146h2v1h-2zM662,145h1v1h-1zM663,144h2v1h-2zM665,143h1v1h-1zM666,142h2v1h-2zM668,141h1v1h-1zM669,140h2v1h-2zM671,139h1v1h-1zM672,138h2v1h-2zM674,137h1v1h-1zM675,136h2v1h-2zM677,135h1v1h-1zM678,134h2v1h-2zM680,133h1v1h-1zM681,132h2v1h-2zM683,131h1v1h-1zM684,130h2v1h-2zM686,129h2v1h-2zM688,128h2v1h-2zM690,127h2v1h-2zM692,126h2v1h-2zM694,125h3v1h-3zM697,124h3v1h-3zM700,123h3v1h-3zM703,122h3v1h-3zM706,121h3v1h-3zM709,120h3v1h-3zM712,119h26v1h-26zM738,120h2v1h-2zM740,121h2v1h-2zM742,122h3v1h-3zM745,123h21v1h-21zM766,122h12v1h-12zM778,121h6v1h-6zM784,120h2v1h-2zM786,119h2v1h-2zM788,118h2v1h-2zM790,117h3v1h-3zM793,116h3v1h-3zM796,115h3v1h-3zM799,114h3v1h-3zM802,113h3v1h-3zM805,112h2v1h-2zM807,111h2v1h-2zM809,110h5v1h-5zM814,111h2v1h-2zM816,112h2v1h-2zM818,113h2v1h-2zM820,114h3v1h-3zM823,115h3v1h-3zM826,116h2v1h-2zM828,117h2v1h-2zM830,118h2v1h-2zM832,119h3v1h-3zM835,120h12v1h-12zM847,121h2v1h-2zM849,122h2v1h-2zM851,123h1v1h-1zM852,124h2v1h-2zM854,125h2v1h-2zM856,126h3v1h-3zM859,127h2v1h-2zM861,128h2v1h-2zM863,129h1v1h-1zM864,130h2v1h-2zM866,131h1v1h-1zM867,132h1v1h-1zM868,133h1v1h-1zM869,134h1v1h-1zM870,135h1v1h-1zM871,136h1v1h-1zM872,137h1v1h-1zM873,138h2v1h-2zM875,139h1v1h-1zM876,140h2v1h-2zM878,141h1v1h-1zM879,142h2v1h-2zM881,143h1v1h-1zM882,144h2v1h-2zM884,145h1v1h-1zM885,146h2v1h-2zM887,147h1v1h-1zM888,148h2v1h-2zM890,149h1v1h-1zM891,150h2v1h-2zM893,151h1v1h-1zM894,152h2v1h-2zM896,153h1v1h-1zM897,154h1v1h-1zM898,155h1v1h-1zM899,156h1v1h-1zM900,157h1v1h-1zM901,158h1v1h-1zM902,159h1v1h-1zM903,160h1v1h-1zM904,161h1v1h-1zM905,162h1v1h-1zM906,163h1v1h-1zM907,164h1v1h-1zM908,165h1v1h-1zM909,166h2v1h-2zM911,167h1v1h-1zM912,168h1v1h-1zM913,169h1v1h-1zM914,170h1v1h-1zM915,171h2v1h-2zM917,172h1v1h-1zM918,173h1v1h-1zM919,174h1v1h-1zM920,175h1v1h-1zM921,176h1v1h-1zM922,177h1v1h-1zM923,178h1v1h-1zM924,179h1v1h-1zM925,180v2h1v-2zM926,182h1v1h-1zM927,183h1v1h-1zM928,184v2h1v-2zM929,186h1v1h-1zM930,187h1v1h-1zM931,188v2h1v-2zM932,190h1v1h-1zM933,191h1v1h-1zM934,192v2h1v-2zM935,194h1v1h-1zM936,195h2v1h-2zM938,196h1v1h-1zM939,197h1v1h-1zM940,198h1v1h-1zM941,199h1v1h-1zM942,200h2v1h-2zM944,201h1v1h-1zM945,202h1v1h-1zM946,203h1v1h-1zM947,204h1v1h-1zM948,205h1v1h-1zM949,206h1v1h-1zM950,207h1v1h-1zM951,208h1v1h-1zM952,209v2h1v-2zM953,211h1v1h-1zM954,212h1v1h-1zM955,213h1v1h-1zM956,214h1v1h-1zM957,215h1v1h-1zM958,216v2h1v-2zM959,218h1v1h-1zM960,219h1v1h-1zM961,220h1v1h-1zM962,221h1v1h-1zM963,222h1v1h-1zM964,223v2h1v-2zM965,225h1v1h-1zM966,226h1v1h-1zM967,227v2h1v-2zM968,229h1v1h-1zM969,230h1v1h-1zM970,231h1v1h-1zM971,232h1v1h-1zM972,233h1v1h-1zM973,234h1v1h-1zM974,235h1v1h-1zM975,236h1v1h-1zM976,237h1v1h-1zM977,238h1v1h-1zM978,239h1v1h-1zM979,240h1v1h-1zM980,241h1v1h-1zM981,242h1v1h-1zM982,243h1v1h-1zM983,244h1v1h-1zM984,245h1v1h-1zM985,246h1v1h-1zM986,247h1v1h-1zM987,248h2v1h-2zM989,249h1v1h-1zM990,250h1v1h-1zM991,251h1v1h-1zM992,252h1v1h-1zM993,253h2v1h-2zM995,254h1v1h-1zM996,255h1v1h-1zM997,256h1v1h-1zM998,257h1v1h-1zM999,258h1v1h-1zM1000,259h1v1h-1zM1001,260h1v1h-1zM1002,261h2v1h-2zM1004,262h2v1h-2zM1006,263h3v1h-3zM1009,264h3v1h-3zM1012,265h3v1h-3zM1015,266h6v1h-6zM1021,267h3v1h-3zM1024,268h6v1h-6zM1030,269h3v1h-3zM1033,270h3v1h-3zM1036,271h3v1h-3zM1039,272h3v1h-3zM1042,271h3v1h-3zM1045,270h3v1h-3zM1048,269h3v1h-3zM1051,268h2v1h-2zM1053,267h2v1h-2zM1055,266h1v1h-1zM1056,265h2v1h-2zM1058,264h1v1h-1zM1059,263h2v1h-2zM1061,262h1v1h-1zM1062,261h1v1h-1zM1063,260h1v1h-1zM1064,259h1v1h-1zM1065,258h1v1h-1zM1066,257h1v1h-1zM1067,256h1v1h-1zM1068,255h1v1h-1zM1069,254h1v1h-1zM1070,253h1v1h-1zM1071,252h1v1h-1zM1072,250v2h1v-2zM1073,249h1v1h-1zM1074,248h1v1h-1zM1075,247h1v1h-1zM1076,246h1v1h-1zM1077,245h1v1h-1zM1078,244h1v1h-1zM1079,243h1v1h-1zM1080,242h1v1h-1zM1081,240v2h1v-2zM1082,239h1v1h-1zM1083,238h1v1h-1zM1084,237h1v1h-1zM1085,236h1v1h-1zM1086,235h1v1h-1zM1087,233v2h1v-2zM1088,232h1v1h-1zM1089,231h1v1h-1zM1090,230h1v1h-1zM1091,229h1v1h-1zM1092,228h1v1h-1zM1093,227h1v1h-1zM1094,226h1v1h-1zM1095,225h1v1h-1zM1096,223v2h1v-2zM1097,222h1v1h-1zM1098,221h1v1h-1zM1099,220h1v1h-1zM1100,219h1v1h-1zM1101,218h1v1h-1zM1102,217h1v1h-1zM1103,216h1v1h-1zM1104,215h1v1h-1zM1105,213v2h1v-2zM1106,212h1v1h-1zM1107,211h1v1h-1zM1108,210h1v1h-1zM1109,209h1v1h-1zM1110,208h1v1h-1zM1111,206v2h1v-2zM1112,205h1v1h-1zM1113,204h1v1h-1zM1114,202v2h1v-2zM1115,201h1v1h-1zM1116,200h1v1h-1zM1117,198v2h1v-2zM1118,197h1v1h-1zM1119,195v2h1v-2zM1120,193v2h1v-2zM1121,192h1v1h-1zM1122,190v2h1v-2zM1123,188v2h1v-2zM1124,186v2h1v-2zM1125,184v2h1v-2zM1126,182v2h1v-2zM1127,181h1v1h-1zM1128,179v2h1v-2zM1129,177v2h1v-2zM1130,176h1v1h-1zM1131,174v2h1v-2zM1132,172v2h1v-2zM1133,171h1v1h-1zM1134,170h1v1h-1zM1135,168v2h1v-2zM1136,167h1v1h-1zM1137,166h1v1h-1zM1138,164v2h1v-2zM1139,163h1v1h-1zM1140,162h1v1h-1zM1141,160v2h1v-2zM1142,159h1v1h-1zM1143,158h1v1h-1zM1144,157h1v1h-1zM1145,156h1v1h-1zM1146,154v2h1v-2zM1147,153h1v1h-1z" fill="#000000"/><path d="M65,284h1v1h-1zM66,283h1v1h-1zM67,281v2h1v-2zM68,280h1v1h-1zM69,279h1v1h-1zM70,277v2h1v-2zM71,276h1v1h-1zM72,275h1v1h-1zM73,273v2h1v-2zM74,272h1v1h-1zM75,271h1v1h-1zM76,269v2h1v-2zM77,268h1v1h-1zM78,267h1v1h-1zM79,265v2h1v-2zM80,264h1v1h-1zM81,263h1v1h-1zM82,262h1v1h-1zM83,261h1v1h-1zM84,260h1v1h-1zM85,258v2h1v-2zM86,257h1v1h-1zM87,256h1v1h-1zM88,254v2h1v-2zM89,253h1v1h-1zM90,252h1v1h-1zM91,250v2h1v-2zM92,249h1v1h-1zM93,248h1v1h-1zM94,246v2h1v-2zM95,245h1v1h-1zM96,244h1v1h-1zM97,242v2h1v-2zM98,241h1v1h-1zM99,240h1v1h-1zM100,238v2h1v-2zM101,237h1v1h-1zM102,236h1v1h-1zM103,235h1v1h-1zM104,234h1v1h-1zM105,233h1v1h-1zM106,231v2h1v-2zM107,230h1v1h-1zM108,229h1v1h-1zM109,227v2h1v-2zM110,226h1v1h-1zM111,225h1v1h-1zM112,224h1v1h-1zM113,223h1v1h-1zM114,222h1v1h-1zM115,221h1v1h-1zM116,220h1v1h-1zM117,219h1v1h-1zM118,218h1v1h-1zM119,217h1v1h-1zM120,216h1v1h-1zM121,215h1v1h-1zM122,214h1v1h-1zM123,213h1v1h-1zM124,212h1v1h-1zM125,211h1v1h-1zM126,210h1v1h-1zM127,209h1v1h-1zM128,208h1v1h-1zM129,207h1v1h-1zM130,206h1v1h-1zM131,205h1v1h-1zM132,204h2v1h-2zM134,203h1v1h-1zM135,202h1v1h-1zM136,201h1v1h-1zM137,200h1v1h-1zM138,199h1v1h-1zM139,198h1v1h-1zM140,197h1v1h-1zM141,196h2v1h-2zM143,195h1v1h-1zM144,194h1v1h-1zM145,193h1v1h-1zM146,192h1v1h-1zM147,191h1v1h-1zM148,189v2h1v-2zM149,188h1v1h-1zM150,187h1v1h-1zM151,186h1v1h-1zM152,185h1v1h-1zM153,184h1v1h-1zM154,183h1v1h-1zM155,182h1v1h-1zM156,181h1v1h-1zM157,179v2h1v-2zM158,178h1v1h-1zM159,177h1v1h-1zM160,176h1v1h-1zM161,175h1v1h-1zM162,174h1v1h-1zM163,172v2h1v-2zM164,171h1v1h-1zM165,170h1v1h-1zM166,168v2h1v-2zM167,167h1v1h-1zM168,166h1v1h-1zM169,164v2h1v-2zM170,163h1v1h-1zM171,162h1v1h-1zM172,161h1v1h-1zM173,160h1v1h-1zM174,159h1v1h-1zM175,157v2h1v-2zM176,156h1v1h-1zM177,155h2v1h-2zM179,154h1v1h-1zM180,153h1v1h-1zM181,152h1v1h-1zM182,151h1v1h-1zM183,150h2v1h-2zM185,149h2v1h-2zM187,148h2v1h-2zM189,147h2v1h-2zM191,146h1v1h-1zM192,145h2v1h-2zM194,144h1v1h-1zM195,143h2v1h-2zM197,142h1v1h-1zM198,141h1v1h-1zM199,140h1v1h-1zM200,139h1v1h-1zM201,138h1v1h-1zM202,137h1v1h-1zM203,136h1v1h-1zM204,135h1v1h-1zM205,134h1v1h-1zM206,133h1v1h-1zM207,132h1v1h-1zM208,131h1v1h-1zM209,130h1v1h-1zM210,129h1v1h-1zM211,128h1v1h-1zM212,127h1v1h-1zM213,126h2v1h-2zM215,125h1v1h-1zM216,124h2v1h-2zM218,123h2v1h-2zM220,122h6v1h-6zM226,123h2v1h-2zM228,124h2v1h-2zM230,125h5v1h-5zM235,126h3v1h-3zM238,127h3v1h-3zM241,128h2v1h-2zM243,129h1v1h-1zM244,130h1v1h-1zM245,131h1v1h-1zM246,132h1v1h-1zM247,133h1v1h-1zM248,134h1v1h-1zM249,135h1v1h-1zM250,136v2h1v-2zM251,138h1v1h-1zM252,139v2h1v-2zM253,141v2h1v-2zM254,143h1v1h-1zM255,144v2h1v-2zM256,146v2h1v-2zM257,148v2h1v-2zM258,150h1v1h-1zM259,151v2h1v-2zM260,153h1v1h-1zM261,154h1v1h-1zM262,155h1v1h-1zM263,156h1v1h-1zM264,157h1v1h-1zM265,158h1v1h-1zM266,159h1v1h-1zM267,160h1v1h-1zM268,161v2h1v-2zM269,163h1v1h-1zM270,164h1v1h-1zM271,165h1v1h-1zM272,166h1v1h-1zM273,167h1v1h-1zM274,168h1v1h-1zM275,169h1v1h-1zM276,170h1v1h-1zM277,171v2h1v-2zM278,173h1v1h-1zM279,174h1v1h-1zM280,175h1v1h-1zM281,176h1v1h-1zM282,177h1v1h-1zM283,178h1v1h-1zM284,179h1v1h-1zM285,180h1v1h-1zM286,181v2h1v-2zM287,183h1v1h-1zM288,184h1v1h-1zM289,185v2h1v-2zM290,187h1v1h-1zM291,188h1v1h-1zM292,189v2h1v-2zM293,191h1v1h-1zM294,192h1v1h-1zM295,193v2h1v-2zM296,195h1v1h-1zM297,196h1v1h-1zM298,197v2h1v-2zM299,199h1v1h-1zM300,200v2h1v-2zM301,202v2h1v-2zM302,204h1v1h-1zM303,205v2h1v-2zM304,207v2h1v-2zM305,209v2h1v-2zM306,211v2h1v-2zM307,213v2h1v-2zM308,215v2h1v-2zM309,217v2h1v-2zM310,219v2h1v-2zM311,221v2h1v-2zM312,223v2h1v-2zM313,225v2h1v-2zM314,227v2h1v-2zM315,229v2h1v-2zM316,231v2h1v-2zM317,233v2h1v-2zM318,235v2h1v-2zM319,237v2h1v-2zM320,239v2h1v-2zM321,241v2h1v-2zM322,243v2h1v-2zM323,245v2h1v-2zM324,247v2h1v-2zM325,249v2h1v-2zM326,251h1v1h-1zM327,252v2h1v-2zM328,254v2h1v-2zM329,256v2h1v-2zM330,258v2h1v-2zM331,260v2h1v-2zM332,262v3h1v-3zM333,265v2h1v-2zM334,267v2h1v-2zM335,269v3h1v-3zM336,272v3h1v-3zM337,275v3h1v-3zM338,278v3h1v-3zM339,281v2h1v-2zM340,283v3h1v-3zM341,286v3h1v-3zM342,289v2h1v-2zM343,291v2h1v-2zM344,293v2h1v-2zM345,295v2h1v-2zM346,297v2h1v-2zM347,299v2h1v-2zM348,301v2h1v-2zM349,303v2h1v-2zM350,305v2h1v-2zM351,307v2h1v-2zM352,309v2h1v-2zM353,311h1v1h-1zM354,312h1v1h-1zM355,313v2h1v-2zM356,315h1v1h-1zM357,316h1v1h-1zM358,317v2h1v-2zM359,319h1v1h-1zM360,320h1v1h-1zM361,321h1v1h-1zM362,322h1v1h-1zM363,323h1v1h-1zM364,324v2h1v-2zM365,326h1v1h-1zM366,327h1v1h-1zM367,328v2h1v-2zM368,330h1v1h-1zM369,331h2v1h-2zM371,332h2v1h-2zM373,333h15v1h-15zM388,334h2v1h-2zM390,335h2v1h-2zM392,336h1v1h-1zM393,337h2v1h-2zM395,338h2v1h-2zM397,339h2v1h-2zM399,340h2v1h-2zM401,341h1v1h-1zM402,342h1v1h-1zM403,343h1v1h-1zM404,344h1v1h-1zM405,345h2v1h-2zM407,346h1v1h-1zM408,347h1v1h-1zM409,348h1v1h-1zM410,349h1v1h-1zM411,350h1v1h-1zM412,351v2h1v-2zM413,353h1v1h-1zM414,354h1v1h-1zM415,355h1v1h-1zM416,356h1v1h-1zM417,357h2v1h-2zM419,358h1v1h-1zM420,359h2v1h-2zM422,360h2v1h-2zM424,361h9v1h-9zM433,360h3v1h-3zM436,359h3v1h-3zM439,358h3v1h-3zM442,357h2v1h-2zM444,356h2v1h-2zM446,355h1v1h-1zM447,354h2v1h-2zM449,353h1v1h-1zM450,352h1v1h-1zM451,351h1v1h-1zM452,350h1v1h-1zM453,349h2v1h-2zM455,348h1v1h-1zM456,347h1v1h-1zM457,345v2h1v-2zM458,344h1v1h-1zM459,343h1v1h-1zM460,342h1v1h-1zM461,341h1v1h-1zM462,340h1v1h-1zM463,339h1v1h-1zM464,338h1v1h-1zM465,337h1v1h-1zM466,336h1v1h-1zM467,335h1v1h-1zM468,334h1v1h-1zM469,333h1v1h-1zM470,332h1v1h-1zM471,331h1v1h-1zM472,330h1v1h-1zM473,329h1v1h-1zM474,328h1v1h-1zM475,327h1v1h-1zM476,326h1v1h-1zM477,325h1v1h-1zM478,324h1v1h-1zM479,323h1v1h-1zM480,322h1v1h-1zM481,321h1v1h-1zM482,320h1v1h-1zM483,319h1v1h-1zM484,318h1v1h-1zM485,317h1v1h-1zM486,316h1v1h-1zM487,315h1v1h-1zM488,314h1v1h-1zM489,313h1v1h-1zM490,312h1v1h-1zM491,311h1v1h-1zM492,310h2v1h-2zM494,309h1v1h-1zM495,308h2v1h-2zM497,307h1v1h-1zM498,306h2v1h-2zM500,305h2v1h-2zM502,304h2v1h-2zM504,303h2v1h-2zM506,302h1v1h-1zM507,301h2v1h-2zM509,300h1v1h-1zM510,299h1v1h-1zM511,298h1v1h-1zM512,297h1v1h-1zM513,296h1v1h-1zM514,295h1v1h-1zM515,294h1v1h-1zM516,293h1v1h-1zM517,291v2h1v-2zM518,290h1v1h-1zM519,289h1v1h-1zM520,287v2h1v-2zM521,286h1v1h-1zM522,284v2h1v-2zM523,282v2h1v-2zM524,281h1v1h-1zM525,279v2h1v-2zM526,277v2h1v-2zM527,276h1v1h-1zM528,274v2h1v-2zM529,272v2h1v-2zM530,270v2h1v-2zM531,268v2h1v-2zM532,266v2h1v-2zM533,264v2h1v-2zM534,262v2h1v-2zM535,260v2h1v-2zM536,258v2h1v-2zM537,256v2h1v-2zM538,254v2h1v-2zM539,252v2h1v-2zM540,250v2h1v-2zM541,248v2h1v-2zM542,246v2h1v-2zM543,244v2h1v-2zM544,242v2h1v-2zM545,240v2h1v-2zM546,238v2h1v-2zM547,236v2h1v-2zM548,234v2h1v-2zM549,232v2h1v-2zM550,230v2h1v-2zM551,228v2h1v-2zM552,226v2h1v-2zM553,224v2h1v-2zM554,223h1v1h-1zM555,221v2h1v-2zM556,219v2h1v-2zM557,217v2h1v-2zM558,215v2h1v-2zM559,213v2h1v-2zM560,212h1v1h-1zM561,210v2h1v-2zM562,208v2h1v-2zM563,207h1v1h-1zM564,205v2h1v-2zM565,203v2h1v-2zM566,201v2h1v-2zM567,199v2h1v-2zM568,197v2h1v-2zM569,196h1v1h-1zM570,194v2h1v-2zM571,192v2h1v-2zM572,191h1v1h-1zM573,189v2h1v-2zM574,187v2h1v-2zM575,185v2h1v-2zM576,183v2h1v-2zM577,181v2h1v-2zM578,179v2h1v-2zM579,177v2h1v-2zM580,175v2h1v-2zM581,174h1v1h-1zM582,173h1v1h-1zM583,171v2h1v-2zM584,170h1v1h-1zM585,169h1v1h-1zM586,168h1v1h-1zM587,167h1v1h-1zM588,166h1v1h-1zM589,165h1v1h-1zM590,164h1v1h-1zM591,163h2v1h-2zM593,162h1v1h-1zM594,161h2v1h-2zM596,160h1v1h-1zM597,159h2v1h-2zM599,158h1v1h-1zM600,157h1v1h-1zM601,156h1v1h-1zM602,155h1v1h-1zM603,154h1v1h-1zM604,152v2h1v-2zM605,151h1v1h-1zM606,150h1v1h-1zM607,148v2h1v-2zM608,147h1v1h-1zM609,146h1v1h-1zM610,144v2h1v-2zM611,143h1v1h-1zM612,142h1v1h-1zM613,140v2h1v-2zM614,139h1v1h-1zM615,138h1v1h-1zM616,136v2h1v-2zM617,135h1v1h-1zM618,134h1v1h-1zM619,133h1v1h-1zM620,132h1v1h-1zM621,131h1v1h-1zM622,129v2h1v-2zM623,128h1v1h-1zM624,127h1v1h-1zM625,126h1v1h-1zM626,125h1v1h-1zM627,124h1v1h-1zM628,122v2h1v-2zM629,121h1v1h-1zM630,120h1v1h-1zM631,118v2h1v-2zM632,117h1v1h-1zM633,116h1v1h-1zM634,115h1v1h-1zM635,114h1v1h-1zM636,113h2v1h-2zM638,112h1v1h-1zM639,111h2v1h-2zM641,110h1v1h-1zM642,109h2v1h-2zM644,108h2v1h-2zM646,107h3v1h-3zM649,106h3v1h-3zM652,105h9v1h-9zM661,106h3v1h-3zM664,107h3v1h-3zM667,108h3v1h-3zM670,109h3v1h-3zM673,110h3v1h-3zM676,111h2v1h-2zM678,112h2v1h-2zM680,113h2v1h-2zM682,114h2v1h-2zM684,115h2v1h-2zM686,116h1v1h-1zM687,117h2v1h-2zM689,118h1v1h-1zM690,119h2v1h-2zM692,120h1v1h-1zM693,121h2v1h-2zM695,122h1v1h-1zM696,123h2v1h-2zM698,124h1v1h-1zM699,125h2v1h-2zM701,126h1v1h-1zM702,127h2v1h-2zM704,128h1v1h-1zM705,129h2v1h-2zM707,130h1v1h-1zM708,131h2v1h-2zM710,132h8v1h-8zM718,131h3v1h-3zM721,130h21v1h-21zM742,131h3v1h-3zM745,132h12v1h-12zM757,131h6v1h-6zM763,130h3v1h-3zM766,129h3v1h-3zM769,128h2v1h-2zM771,127h2v1h-2zM773,126h1v1h-1zM774,125h2v1h-2zM776,124h1v1h-1zM777,123h2v1h-2zM779,122h2v1h-2zM781,121h2v1h-2zM783,120h2v1h-2zM785,119h1v1h-1zM786,118h2v1h-2zM788,117h1v1h-1zM789,116h2v1h-2zM791,115h1v1h-1zM792,114h2v1h-2zM794,113h1v1h-1zM795,112h2v1h-2zM797,111h2v1h-2zM799,110h2v1h-2zM801,109h2v1h-2zM803,108h1v1h-1zM804,107h2v1h-2zM806,106h1v1h-1zM807,105h2v1h-2zM809,104h2v1h-2zM811,103h18v1h-18zM829,104h6v1h-6zM835,105h6v1h-6zM841,106h3v1h-3zM844,107h2v1h-2zM846,108h2v1h-2zM848,109h1v1h-1zM849,110h2v1h-2zM851,111h1v1h-1zM852,112h2v1h-2zM854,113h1v1h-1zM855,114h1v1h-1zM856,115h1v1h-1zM857,116h1v1h-1zM858,117h1v1h-1zM859,118h1v1h-1zM860,119h1v1h-1zM861,120h1v1h-1zM862,121v2h1v-2zM863,123h1v1h-1zM864,124v2h1v-2zM865,126v2h1v-2zM866,128h1v1h-1zM867,129h1v1h-1zM868,130v2h1v-2zM869,132h1v1h-1zM870,133h1v1h-1zM871,134v2h1v-2zM872,136h1v1h-1zM873,137h1v1h-1zM874,138v2h1v-2zM875,140h1v1h-1zM876,141h1v1h-1zM877,142v2h1v-2zM878,144h1v1h-1zM879,145h1v1h-1zM880,146v2h1v-2zM881,148h1v1h-1zM882,149h1v1h-1zM883,150v2h1v-2zM884,152h1v1h-1zM885,153v2h1v-2zM886,155v2h1v-2zM887,157h1v1h-1zM888,158v2h1v-2zM889,160v2h1v-2zM890,162h1v1h-1zM891,163v2h1v-2zM892,165v2h1v-2zM893,167v2h1v-2zM894,169v2h1v-2zM895,171v2h1v-2zM896,173v2h1v-2zM897,175v2h1v-2zM898,177v2h1v-2zM899,179v2h1v-2zM900,181v2h1v-2zM901,183v2h1v-2zM902,185v2h1v-2zM903,187v2h1v-2zM904,189v2h1v-2zM905,191h1v1h-1zM906,192v2h1v-2zM907,194v2h1v-2zM908,196v2h1v-2zM909,198v2h1v-2zM910,200v2h1v-2zM911,202h1v1h-1zM912,203v2h1v-2zM913,205v2h1v-2zM914,207h1v1h-1zM915,208v2h1v-2zM916,210v2h1v-2zM917,212h1v1h-1zM918,213v2h1v-2zM919,215v2h1v-2zM920,217v3h1v-3zM921,220v2h1v-2zM922,222v2h1v-2zM923,224v3h1v-3zM924,227v2h1v-2zM925,229v2h1v-2zM926,231v3h1v-3zM927,234v2h1v-2zM928,236v2h1v-2zM929,238v3h1v-3zM930,241v2h1v-2zM931,243v2h1v-2zM932,245v3h1v-3zM933,248v2h1v-2zM934,250v2h1v-2zM935,252v2h1v-2zM936,254v2h1v-2zM937,256v2h1v-2zM938,258v2h1v-2zM939,260v2h1v-2zM940,262v2h1v-2zM941,264h1v1h-1zM942,265h1v1h-1zM943,266h1v1h-1zM944,267h1v1h-1zM945,268h1v1h-1zM946,269v2h1v-2zM947,271h1v1h-1zM948,272h2v1h-2zM950,273h1v1h-1zM951,274h1v1h-1zM952,275h1v1h-1zM953,276h1v1h-1zM954,277h1v1h-1zM955,278h1v1h-1zM956,279h1v1h-1zM957,280h1v1h-1zM958,281h1v1h-1zM959,282h1v1h-1zM960,283h2v1h-2zM962,284h1v1h-1zM963,285h1v1h-1zM964,286h1v1h-1zM965,287h1v1h-1zM966,288h1v1h-1zM967,289h1v1h-1zM968,290h1v1h-1zM969,291h1v1h-1zM970,292v2h1v-2zM971,294h1v1h-1zM972,295h2v1h-2zM974,296h2v1h-2zM976,297h6v1h-6zM982,298h9v1h-9zM991,297h3v1h-3zM994,296h2v1h-2zM996,295h2v1h-2zM998,294h1v1h-1zM999,293h1v1h-1zM1000,292h1v1h-1zM1001,291h1v1h-1zM1002,290h1v1h-1zM1003,289h1v1h-1zM1004,288h1v1h-1zM1005,287h2v1h-2zM1007,286h2v1h-2zM1009,285h3v1h-3zM1012,284h3v1h-3zM1015,283h2v1h-2zM1017,282h2v1h-2zM1019,281h1v1h-1zM1020,280h2v1h-2zM1022,279h1v1h-1zM1023,278h2v1h-2zM1025,277h1v1h-1zM1026,276h2v1h-2zM1028,275h1v1h-1zM1029,274h1v1h-1zM1030,273h1v1h-1zM1031,272h1v1h-1zM1032,271h2v1h-2zM1034,270h1v1h-1zM1035,269h2v1h-2zM1037,268h1v1h-1zM1038,267h1v1h-1zM1039,266h1v1h-1zM1040,265h1v1h-1zM1041,264h2v1h-2zM1043,263h1v1h-1zM1044,262h1v1h-1zM1045,261h1v1h-1zM1046,260h1v1h-1zM1047,259h1v1h-1zM1048,258h1v1h-1zM1049,257h1v1h-1zM1050,256h1v1h-1zM1051,254v2h1v-2zM1052,253h1v1h-1zM1053,251v2h1v-2zM1054,249v2h1v-2zM1055,247v2h1v-2zM1056,245v2h1v-2zM1057,243v2h1v-2zM1058,240v3h1v-3zM1059,238v2h1v-2zM1060,235v3h1v-3zM1061,232v3h1v-3zM1062,230v2h1v-2zM1063,228v2h1v-2zM1064,226v2h1v-2zM1065,225h1v1h-1zM1066,223v2h1v-2zM1067,222h1v1h-1zM1068,221h1v1h-1zM1069,220h1v1h-1zM1070,219h1v1h-1zM1071,218h1v1h-1zM1072,217h1v1h-1zM1073,216h1v1h-1zM1074,214v2h1v-2zM1075,212v2h1v-2zM1076,211h1v1h-1zM1077,209v2h1v-2zM1078,207v2h1v-2zM1079,206h1v1h-1zM1080,204v2h1v-2zM1081,202v2h1v-2zM1082,200v2h1v-2zM1083,198v2h1v-2zM1084,196v2h1v-2zM1085,195h1v1h-1zM1086,193v2h1v-2zM1087,191v2h1v-2zM1088,189v2h1v-2zM1089,187v2h1v-2zM1090,185v2h1v-2zM1091,184h1v1h-1zM1092,182v2h1v-2zM1093,180v2h1v-2zM1094,178v2h1v-2zM1095,176v2h1v-2zM1096,174v2h1v-2zM1097,173h1v1h-1zM1098,171v2h1v-2zM1099,169v2h1v-2zM1100,168h1v1h-1zM1101,167h1v1h-1zM1102,165v2h1v-2zM1103,164h1v1h-1zM1104,162v2h1v-2zM1105,160v2h1v-2zM1106,159h1v1h-1zM1107,158h1v1h-1zM1108,156v2h1v-2zM1109,155h1v1h-1zM1110,154h1v1h-1zM1111,152v2h1v-2zM1112,151h1v1h-1zM1113,150h1v1h-1zM1114,149h1v1h-1zM1115,148h1v1h-1zM1116,147h1v1h-1zM1117,145v2h1v-2zM1118,144h1v1h-1zM1119,143h1v1h-1zM1120,141v2h1v-2zM1121,140h1v1h-1zM1122,139h1v1h-1zM1123,137v2h1v-2zM1124,136h1v1h-1zM1125,135h1v1h-1zM1126,133v2h1v-2zM1127,132h1v1h-1zM1128,131h1v1h-1zM1129,129v2h1v-2zM1130,128h1v1h-1zM1131,127h1v1h-1zM1132,126h1v1h-1zM1133,125h1v1h-1zM1134,124h1v1h-1zM1135,122v2h1v-2zM1136,121h1v1h-1zM1137,120h1v1h-1zM1138,119h1v1h-1zM1139,118h1v1h-1zM1140,117h1v1h-1zM1141,116h1v1h-1zM1142,115h1v1h-1zM1143,114h1v1h-1zM1144,112v2h1v-2zM1145,110v2h1v-2zM1146,108v2h1v-2zM1147,106v2h1v-2z" fill="#ff00ff"/><path d="M65,237h1v1h-1zM66,236h1v1h-1zM67,235h2v1h-2zM69,234h1v1h-1zM70,233h1v1h-1zM71,232h2v1h-2zM73,231h1v1h-1zM74,230h1v1h-1zM75,229h2v1h-2zM77,228h1v1h-1zM78,227h1v1h-1zM79,226h2v1h-2zM81,225h1v1h-1zM82,224h1v1h-1zM83,223h2v1h-2zM85,222h1v1h-1zM86,221h1v1h-1zM87,220h2v1h-2zM89,219h1v1h-1zM90,218h1v1h-1zM91,217h1v1h-1zM92,216h1v1h-1zM93,215h1v1h-1zM94,213v2h1v-2zM95,212h1v1h-1zM96,211h1v1h-1zM97,210h1v1h-1zM98,209h2v1h-2zM100,208h2v1h-2zM102,207h2v1h-2zM104,206h1v1h-1zM105,205h1v1h-1zM106,203v2h1v-2zM107,202h1v1h-1zM108,201h1v1h-1zM109,200h1v1h-1zM110,199h1v1h-1zM111,197v2h1v-2zM112,196h1v1h-1zM113,195h1v1h-1zM114,194h1v1h-1zM115,193h1v1h-1zM116,191v2h1v-2zM117,190h1v1h-1zM118,189h1v1h-1zM119,188h1v1h-1zM120,187h1v1h-1zM121,185v2h1v-2zM122,184h1v1h-1zM123,183h1v1h-1zM124,182h1v1h-1zM125,181h1v1h-1zM126,180h1v1h-1zM127,178v2h1v-2zM128,177h1v1h-1zM129,176h1v1h-1zM130,175h1v1h-1zM131,174h1v1h-1zM132,172v2h1v-2zM133,171h1v1h-1zM134,170h1v1h-1zM135,168v2h1v-2zM136,167h1v1h-1zM137,166h1v1h-1zM138,165h1v1h-1zM139,164h1v1h-1zM140,162v2h1v-2zM141,161h1v1h-1zM142,160h1v1h-1zM143,159h1v1h-1zM144,158h1v1h-1zM145,157h1v1h-1zM146,155v2h1v-2zM147,154h1v1h-1zM148,153h1v1h-1zM149,152h1v1h-1zM150,151h1v1h-1zM151,150h1v1h-1zM152,149h1v1h-1zM153,147v2h1v-2zM154,146h1v1h-1zM155,145h1v1h-1zM156,144h1v1h-1zM157,142v2h1v-2zM158,141h1v1h-1zM159,139v2h1v-2zM160,138h1v1h-1zM161,136v2h1v-2zM162,135h1v1h-1zM163,134h1v1h-1zM164,132v2h1v-2zM165,131h1v1h-1zM166,130h1v1h-1zM167,128v2h1v-2zM168,127h1v1h-1zM169,126h1v1h-1zM170,124v2h1v-2zM171,122v2h1v-2zM172,120v2h1v-2zM173,118v2h1v-2zM174,116v2h1v-2zM175,115h1v1h-1zM176,114h2v1h-2zM178,113h2v1h-2zM180,112h2v1h-2zM182,111h14v1h-14zM196,110h2v1h-2zM198,109h1v1h-1zM199,108h2v1h-2zM201,107h2v1h-2zM203,106h2v1h-2zM205,105h2v1h-2zM207,104h2v1h-2zM209,103h2v1h-2zM211,102h1v1h-1zM212,101h2v1h-2zM214,100h4v1h-4zM218,101h4v1h-4zM222,102v2h1v-2zM223,104v2h1v-2zM224,106v2h1v-2zM225,108v2h1v-2zM226,110v2h1v-2zM227,112h1v1h-1zM228,113v2h1v-2zM229,115v2h1v-2zM230,117v2h1v-2zM231,119v2h1v-2zM232,121v2h1v-2zM233,123v2h1v-2zM234,125v2h1v-2zM235,127v2h1v-2zM236,129v2h1v-2zM237,131v3h1v-3zM238,134v2h1v-2zM239,136v2h1v-2zM240,138v3h1v-3zM241,141v2h1v-2zM242,143v3h1v-3zM243,146v2h1v-2zM244,148v2h1v-2zM245,150v3h1v-3zM246,153v2h1v-2zM247,155v3h1v-3zM248,158v3h1v-3zM249,161v4h1v-4zM250,165v3h1v-3zM251,168v3h1v-3zM252,171v4h1v-4zM253,175v3h1v-3zM254,178v2h1v-2zM255,180v3h1v-3zM256,183v2h1v-2zM257,185v3h1v-3zM258,188v3h1v-3zM259,191v2h1v-2zM260,193v3h1v-3zM261,196v3h1v-3zM262,199v3h1v-3zM263,202v3h1v-3zM264,205v3h1v-3zM265,208v3h1v-3zM266,211v3h1v-3zM267,214v3h1v-3zM268,217v3h1v-3zM269,220v2h1v-2zM270,222v3h1v-3zM271,225v3h1v-3zM272,228v3h1v-3zM273,231v3h1v-3zM274,234v3h1v-3zM275,237v3h1v-3zM276,240v4h1v-4zM277,244v3h1v-3zM278,247v3h1v-3zM279,250v2h1v-2zM280,252v2h1v-2zM281,254v2h1v-2zM282,256v2h1v-2zM283,258v2h1v-2zM284,260v2h1v-2zM285,262v2h1v-2zM286,264v2h1v-2zM287,266h1v1h-1zM288,267h1v1h-1zM289,268h1v1h-1zM290,269h1v1h-1zM291,270h1v1h-1zM292,271h1v1h-1zM293,272h2v1h-2zM295,273h2v1h-2zM297,274h2v1h-2zM299,275h1v1h-1zM300,276v2h1v-2zM301,278h1v1h-1zM302,279v2h1v-2zM303,281h1v1h-1zM304,282v2h1v-2zM305,284h1v1h-1zM306,285h1v1h-1zM307,286v2h1v-2zM308,288h1v1h-1zM309,289h1v1h-1zM310,290v2h1v-2zM311,292h1v1h-1zM312,293h2v1h-2zM314,294h3v1h-3zM317,295h2v1h-2zM319,296h1v1h-1zM320,297h1v1h-1zM321,298v2h1v-2zM322,300h1v1h-1zM323,301h1v1h-1zM324,302h1v1h-1zM325,303h1v1h-1zM326,304v2h1v-2zM327,306h1v1h-1zM328,307h1v1h-1zM329,308v2h1v-2zM330,310h1v1h-1zM331,311v2h1v-2zM332,313v2h1v-2zM333,315v2h1v-2zM334,317v3h1v-3zM335,320v2h1v-2zM336,322v2h1v-2zM337,324v2h1v-2zM338,326v2h1v-2zM339,328v2h1v-2zM340,330v2h1v-2zM341,332v2h1v-2zM342,334v2h1v-2zM343,336v2h1v-2zM344,338v2h1v-2zM345,340v2h1v-2zM346,342v2h1v-2zM347,344v2h1v-2zM348,346v2h1v-2zM349,348v2h1v-2zM350,350v2h1v-2zM351,352v2h1v-2zM352,354v2h1v-2zM353,356h1v1h-1zM354,357v2h1v-2zM355,359v2h1v-2zM356,361v2h1v-2zM357,363h1v1h-1zM358,364v2h1v-2zM359,366v2h1v-2zM360,368h1v1h-1zM361,369v2h1v-2zM362,371v2h1v-2zM363,373h1v1h-1zM364,374h2v1h-2zM366,375h1v1h-1zM367,376h1v1h-1zM368,377h2v1h-2zM370,378h1v1h-1zM371,377h1v1h-1zM372,376h1v1h-1zM373,375h2v1h-2zM375,374h1v1h-1zM376,373h2v1h-2zM378,372h4v1h-4zM382,371h2v1h-2zM384,370h2v1h-2zM386,369h2v1h-2zM388,368h2v1h-2zM390,367h2v1h-2zM392,366h2v1h-2zM394,365h2v1h-2zM396,364h1v1h-1zM397,363h2v1h-2zM399,362h1v1h-1zM400,361h2v1h-2zM402,360h2v1h-2zM404,359h2v1h-2zM406,358h2v1h-2zM408,357h3v1h-3zM411,356h3v1h-3zM414,355h3v1h-3zM417,354h2v1h-2zM419,353h2v1h-2zM421,352h2v1h-2zM423,351h1v1h-1zM424,350h1v1h-1zM425,349h2v1h-2zM427,348h1v1h-1zM428,347h1v1h-1zM429,346h1v1h-1zM430,345h1v1h-1zM431,344h2v1h-2zM433,343h1v1h-1zM434,342h1v1h-1zM435,341h1v1h-1zM436,340h2v1h-2zM438,339h1v1h-1zM439,338h2v1h-2zM441,337h1v1h-1zM442,336h2v1h-2zM444,335h1v1h-1zM445,334h1v1h-1zM446,333h2v1h-2zM448,332h1v1h-1zM449,331h1v1h-1zM450,330h1v1h-1zM451,329h1v1h-1zM452,328h1v1h-1zM453,327h1v1h-1zM454,326h1v1h-1zM455,325h1v1h-1zM456,323v2h1v-2zM457,322h1v1h-1zM458,321h1v1h-1zM459,319v2h1v-2zM460,318h1v1h-1zM461,317h1v1h-1zM462,315v2h1v-2zM463,313v2h1v-2zM464,311v2h1v-2zM465,309v2h1v-2zM466,307v2h1v-2zM467,306h1v1h-1zM468,305h1v1h-1zM469,304h1v1h-1zM470,303h1v1h-1zM471,302h1v1h-1zM472,301h1v1h-1zM473,300h1v1h-1zM474,299h1v1h-1zM475,298h1v1h-1zM476,296v2h1v-2zM477,295h1v1h-1zM478,294h1v1h-1zM479,292v2h1v-2zM480,291h1v1h-1zM481,289v2h1v-2zM482,288h1v1h-1zM483,287h1v1h-1zM484,285v2h1v-2zM485,284h1v1h-1zM486,282v2h1v-2zM487,281h1v1h-1zM488,280h1v1h-1zM489,279h1v1h-1zM490,278h2v1h-2zM492,277h1v1h-1zM493,276h1v1h-1zM494,275h2v1h-2zM496,274h1v1h-1zM497,273h1v1h-1zM498,272h2v1h-2zM500,271h1v1h-1zM501,270h1v1h-1zM502,269h1v1h-1zM503,268h1v1h-1zM504,267h1v1h-1zM505,266h1v1h-1zM506,265h1v1h-1zM507,264h1v1h-1zM508,263h1v1h-1zM509,262h2v1h-2zM511,261h1v1h-1zM512,260h1v1h-1zM513,259h1v1h-1zM514,257v2h1v-2zM515,255v2h1v-2zM516,254h1v1h-1zM517,252v2h1v-2zM518,250v2h1v-2zM519,249h1v1h-1zM520,247v2h1v-2zM521,245v2h1v-2zM522,244h1v1h-1zM523,242v2h1v-2zM524,240v2h1v-2zM525,238v2h1v-2zM526,236v2h1v-2zM527,234v2h1v-2zM528,231v3h1v-3zM529,229v2h1v-2zM530,226v3h1v-3zM531,224v2h1v-2zM532,221v3h1v-3zM533,219v2h1v-2zM534,216v3h1v-3zM535,214v2h1v-2zM536,211v3h1v-3zM537,208v3h1v-3zM538,206v2h1v-2zM539,203v3h1v-3zM540,201v2h1v-2zM541,198v3h1v-3zM542,195v3h1v-3zM543,193v2h1v-2zM544,190v3h1v-3zM545,187v3h1v-3zM546,185v2h1v-2zM547,182v3h1v-3zM548,180v2h1v-2zM549,178v2h1v-2zM550,175v3h1v-3zM551,173v2h1v-2zM552,170v3h1v-3zM553,167v3h1v-3zM554,164v3h1v-3zM555,162v2h1v-2zM556,159v3h1v-3zM557,156v3h1v-3zM558,153v3h1v-3zM559,151v2h1v-2zM560,149v2h1v-2zM561,147v2h1v-2zM562,145v2h1v-2zM563,143v2h1v-2zM564,141v2h1v-2zM565,138v3h1v-3zM566,136v2h1v-2zM567,133v3h1v-3zM568,131v2h1v-2zM569,128v3h1v-3zM570,126v2h1v-2zM571,123v3h1v-3zM572,120v3h1v-3zM573,117v3h1v-3zM574,115v2h1v-2zM575,112v3h1v-3zM576,109v3h1v-3zM577,107v2h1v-2zM578,105v2h1v-2zM579,103v2h1v-2zM580,101v2h1v-2zM581,99v2h1v-2zM582,97v2h1v-2zM583,95v2h1v-2zM584,94h3v1h-3zM587,93h5v1h-5zM592,94h2v1h-2zM594,95h2v1h-2zM596,96h4v1h-4zM600,97h5v1h-5zM605,98h4v1h-4zM609,99h2v1h-2zM611,100h2v1h-2zM613,101h1v1h-1zM614,102h2v1h-2zM616,103h2v1h-2zM618,104h4v1h-4zM622,105h4v1h-4zM626,106h5v1h-5zM631,107h4v1h-4zM635,108h2v1h-2zM637,109h2v1h-2zM639,110h1v1h-1zM640,111h2v1h-2zM642,112h1v1h-1zM643,113h1v1h-1zM644,114h1v1h-1zM645,115h2v1h-2zM647,116h1v1h-1zM648,117h1v1h-1zM649,118h2v1h-2zM651,117h3v1h-3zM654,116h5v1h-5zM659,117h4v1h-4zM663,118h2v1h-2zM665,119h2v1h-2zM667,120h3v1h-3zM670,121h4v1h-4zM674,122h2v1h-2zM676,123h2v1h-2zM678,124h2v1h-2zM680,125h2v1h-2zM682,126h1v1h-1zM683,127h1v1h-1zM684,128h1v1h-1zM685,129h1v1h-1zM686,130h1v1h-1zM687,131h1v1h-1zM688,132h1v1h-1zM689,133h1v1h-1zM690,134h1v1h-1zM691,135v2h1v-2zM692,137h1v1h-1zM693,138h1v1h-1zM694,139h1v1h-1zM695,140h2v1h-2zM697,141h1v1h-1zM698,142h1v1h-1zM699,143h2v1h-2zM701,144h3v1h-3zM704,145h13v1h-13zM717,146h4v1h-4zM721,145h2v1h-2zM723,144h2v1h-2zM725,143h2v1h-2zM727,142h2v1h-2zM729,141h3v1h-3zM732,140h11v1h-11zM743,139h4v1h-4zM747,138h2v1h-2zM749,137h1v1h-1zM750,136h1v1h-1zM751,135h2v1h-2zM753,134h1v1h-1zM754,132v2h1v-2zM755,131h1v1h-1zM756,129v2h1v-2zM757,128h1v1h-1zM758,126v2h1v-2zM759,125h1v1h-1zM760,123v2h1v-2zM761,121v2h1v-2zM762,120h1v1h-1zM763,118v2h1v-2zM764,116v2h1v-2zM765,114v2h1v-2zM766,113h1v1h-1zM767,112h1v1h-1zM768,111h1v1h-1zM769,109v2h1v-2zM770,108h1v1h-1zM771,107h1v1h-1zM772,106h1v1h-1zM773,105h1v1h-1zM774,104h1v1h-1zM775,103h1v1h-1zM776,102h1v1h-1zM777,101h1v1h-1zM778,100h1v1h-1zM779,99h1v1h-1zM780,98h1v1h-1zM781,97h1v1h-1zM782,96h2v1h-2zM784,95h1v1h-1zM785,94h1v1h-1zM786,93h2v1h-2zM788,92h2v1h-2zM790,91h2v1h-2zM792,90h1v1h-1zM793,89h1v1h-1zM794,87v2h1v-2zM795,86h1v1h-1zM796,85h1v1h-1zM797,83v2h1v-2zM798,82h1v1h-1zM799,81h1v1h-1zM800,79v2h1v-2zM801,78h1v1h-1zM802,77h1v1h-1zM803,75v2h1v-2zM804,74h1v1h-1zM805,73h1v1h-1zM806,72h1v1h-1zM807,71h1v1h-1zM808,69v2h1v-2zM809,68h1v1h-1zM810,67h1v1h-1zM811,66h1v1h-1zM812,67h2v1h-2zM814,68h1v1h-1zM815,69h1v1h-1zM816,70h2v1h-2zM818,71h1v1h-1zM819,72v2h1v-2zM820,74v2h1v-2zM821,76h1v1h-1zM822,77v2h1v-2zM823,79v2h1v-2zM824,81h1v1h-1zM825,82v2h1v-2zM826,84v2h1v-2zM827,86h1v1h-1zM828,87v2h1v-2zM829,89v2h1v-2zM830,91v2h1v-2zM831,93h1v1h-1zM832,94v2h1v-2zM833,96v2h1v-2zM834,98v2h1v-2zM835,100v2h1v-2zM836,102v2h1v-2zM837,104v2h1v-2zM838,106v2h1v-2zM839,108v2h1v-2zM840,110h1v1h-1zM841,111v2h1v-2zM842,113v2h1v-2zM843,115h1v1h-1zM844,116v2h1v-2zM845,118v2h1v-2zM846,120v2h1v-2zM847,122v2h1v-2zM848,124v2h1v-2zM849,126v2h1v-2zM850,128v3h1v-3zM851,131v2h1v-2zM852,133v3h1v-3zM853,136v3h1v-3zM854,139v2h1v-2zM855,141v3h1v-3zM856,144v3h1v-3zM857,147v3h1v-3zM858,150v3h1v-3zM859,153v2h1v-2zM860,155v3h1v-3zM861,158v3h1v-3zM862,161v3h1v-3zM863,164v4h1v-4zM864,168v5h1v-5zM865,173v5h1v-5zM866,178v4h1v-4zM867,182v5h1v-5zM868,187v5h1v-5zM869,192v4h1v-4zM870,196v3h1v-3zM871,199v3h1v-3zM872,202v3h1v-3zM873,205v4h1v-4zM874,209v3h1v-3zM875,212v3h1v-3zM876,215v2h1v-2zM877,217v2h1v-2zM878,219v2h1v-2zM879,221v2h1v-2zM880,223v2h1v-2zM881,225v2h1v-2zM882,227v2h1v-2zM883,229v2h1v-2zM884,231v2h1v-2zM885,233h1v1h-1zM886,234v2h1v-2zM887,236v2h1v-2zM888,238v2h1v-2zM889,240h1v1h-1zM890,241v2h1v-2zM891,243v2h1v-2zM892,245v2h1v-2zM893,247v2h1v-2zM894,249v2h1v-2zM895,251h1v1h-1zM896,252v2h1v-2zM897,254v2h1v-2zM898,256v2h1v-2zM899,258v2h1v-2zM900,260v2h1v-2zM901,262v2h1v-2zM902,264v2h1v-2zM903,266v3h1v-3zM904,269v4h1v-4zM905,273v3h1v-3zM906,276v3h1v-3zM907,279v4h1v-4zM908,283v2h1v-2zM909,285h1v1h-1zM910,286h1v1h-1zM911,287h2v1h-2zM913,288h1v1h-1zM914,289h1v1h-1zM915,290h1v1h-1zM916,291h1v1h-1zM917,292h1v1h-1zM918,293v2h1v-2zM919,295h1v1h-1zM920,296h1v1h-1zM921,297h1v1h-1zM922,298v2h1v-2zM923,300h1v1h-1zM924,301h1v1h-1zM925,302v2h1v-2zM926,304h1v1h-1zM927,305v2h1v-2zM928,307h1v1h-1zM929,308h2v1h-2zM931,309h1v1h-1zM932,310h2v1h-2zM934,311h2v1h-2zM936,312h2v1h-2zM938,313h2v1h-2zM940,314h4v1h-4zM944,315h13v1h-13zM957,316h5v1h-5zM962,315h2v1h-2zM964,314h2v1h-2zM966,313h2v1h-2zM968,312h1v1h-1zM969,311h1v1h-1zM970,310h1v1h-1zM971,309h1v1h-1zM972,308h1v1h-1zM973,307h2v1h-2zM975,306h2v1h-2zM977,305h2v1h-2zM979,304h2v1h-2zM981,303h1v1h-1zM982,302h1v1h-1zM983,301h2v1h-2zM985,300h1v1h-1zM986,299h1v1h-1zM987,297v2h1v-2zM988,295v2h1v-2zM989,294h1v1h-1zM990,292v2h1v-2zM991,290v2h1v-2zM992,288v2h1v-2zM993,286v2h1v-2zM994,284v2h1v-2zM995,281v3h1v-3zM996,279v2h1v-2zM997,276v3h1v-3zM998,274v2h1v-2zM999,272v2h1v-2zM1000,270v2h1v-2zM1001,269h1v1h-1zM1002,267v2h1v-2zM1003,265v2h1v-2zM1004,264h1v1h-1zM1005,262v2h1v-2zM1006,261h1v1h-1zM1007,259v2h1v-2zM1008,258h1v1h-1zM1009,256v2h1v-2zM1010,255h1v1h-1zM1011,253v2h1v-2zM1012,252h1v1h-1zM1013,251h1v1h-1zM1014,250h1v1h-1zM1015,249h2v1h-2zM1017,248h1v1h-1zM1018,247h1v1h-1zM1019,246h1v1h-1zM1020,245h1v1h-1zM1021,243v2h1v-2zM1022,242h1v1h-1zM1023,241h1v1h-1zM1024,239v2h1v-2zM1025,238h1v1h-1zM1026,237h1v1h-1zM1027,235v2h1v-2zM1028,234h1v1h-1zM1029,233h1v1h-1zM1030,231v2h1v-2zM1031,230h1v1h-1zM1032,229h1v1h-1zM1033,228h1v1h-1zM1034,227h1v1h-1zM1035,226h1v1h-1zM1036,225h1v1h-1zM1037,224h1v1h-1zM1038,223h1v1h-1zM1039,222h1v1h-1zM1040,220v2h1v-2zM1041,219h1v1h-1zM1042,218h1v1h-1zM1043,216v2h1v-2zM1044,215h1v1h-1zM1045,214h1v1h-1zM1046,213h1v1h-1zM1047,211v2h1v-2zM1048,210h1v1h-1zM1049,209h1v1h-1zM1050,207v2h1v-2zM1051,206h1v1h-1zM1052,204v2h1v-2zM1053,203h1v1h-1zM1054,201v2h1v-2zM1055,199v2h1v-2zM1056,198h1v1h-1zM1057,196v2h1v-2zM1058,194v2h1v-2zM1059,192v2h1v-2zM1060,190v2h1v-2zM1061,188v2h1v-2zM1062,186v2h1v-2zM1063,184v2h1v-2zM1064,182v2h1v-2zM1065,181h1v1h-1zM1066,180h1v1h-1zM1067,179h2v1h-2zM1069,178h1v1h-1zM1070,177h1v1h-1zM1071,176h1v1h-1zM1072,174v2h1v-2zM1073,172v2h1v-2zM1074,170v2h1v-2zM1075,168v2h1v-2zM1076,166v2h1v-2zM1077,163v3h1v-3zM1078,161v2h1v-2zM1079,159v2h1v-2zM1080,157v2h1v-2zM1081,155v2h1v-2zM1082,153v2h1v-2zM1083,151v2h1v-2zM1084,148v3h1v-3zM1085,146v2h1v-2zM1086,144v2h1v-2zM1087,141v3h1v-3zM1088,139v2h1v-2zM1089,137v2h1v-2zM1090,134v3h1v-3zM1091,132v2h1v-2zM1092,130v2h1v-2zM1093,128v2h1v-2zM1094,126v2h1v-2zM1095,124v2h1v-2zM1096,122v2h1v-2zM1097,120v2h1v-2zM1098,118v2h1v-2zM1099,116v2h1v-2zM1100,114v2h1v-2zM1101,112v2h1v-2zM1102,110v2h1v-2zM1103,108v2h1v-2zM1104,106v2h1v-2zM1105,104v2h1v-2zM1106,101v3h1v-3zM1107,99v2h1v-2zM1108,97v2h1v-2zM1109,95v2h1v-2zM1110,93v2h1v-2zM1111,92h1v1h-1zM1112,90v2h1v-2zM1113,88v2h1v-2zM1114,87h1v1h-1zM1115,85v2h1v-2zM1116,84h1v1h-1zM1117,83h2v1h-2zM1119,82h1v1h-1zM1120,81h2v1h-2zM1122,80h2v1h-2zM1124,79h2v1h-2zM1126,78h2v1h-2zM1128,77h2v1h-2zM1130,75v2h1v-2zM1131,73v2h1v-2zM1132,72h1v1h-1zM1133,70v2h1v-2zM1134,68v2h1v-2zM1135,67h2v1h-2zM1137,66h2v1h-2zM1139,65h2v1h-2zM1141,64h2v1h-2zM1143,63h2v1h-2zM1145,62h2v1h-2zM1147,61h2v1h-2z" fill="#ff0000"/><path d="M65,229h1v1h-1zM66,228h1v1h-1zM67,227h1v1h-1zM68,226h1v1h-1zM69,225h1v1h-1zM70,224h1v1h-1zM71,223h1v1h-1zM72,222h1v1h-1zM73,221h1v1h-1zM74,220h1v1h-1zM75,219h1v1h-1zM76,218h1v1h-1zM77,217h1v1h-1zM78,216h1v1h-1zM79,214v2h1v-2zM80,212v2h1v-2zM81,210v2h1v-2zM82,208v2h1v-2zM83,206v2h1v-2zM84,204v2h1v-2zM85,203h1v1h-1zM86,202h1v1h-1zM87,201h2v1h-2zM89,200h1v1h-1zM90,199h1v1h-1zM91,198h1v1h-1zM92,197h1v1h-1zM93,196h1v1h-1zM94,194v2h1v-2zM95,193h1v1h-1zM96,192h1v1h-1zM97,191h1v1h-1zM98,190h2v1h-2zM100,189h2v1h-2zM102,188h2v1h-2zM104,187h1v1h-1zM105,186h1v1h-1zM106,185h1v1h-1zM107,184h2v1h-2zM109,183h1v1h-1zM110,182h1v1h-1zM111,181h1v1h-1zM112,180h1v1h-1zM113,179h2v1h-2zM115,178h1v1h-1zM116,177h1v1h-1zM117,176h1v1h-1zM118,174v2h1v-2zM119,172v2h1v-2zM120,171h1v1h-1zM121,169v2h1v-2zM122,167v2h1v-2zM123,166h1v1h-1zM124,165h1v1h-1zM125,164h1v1h-1zM126,163h1v1h-1zM127,161v2h1v-2zM128,160h1v1h-1zM129,159h1v1h-1zM130,158h1v1h-1zM131,156v2h1v-2zM132,154v2h1v-2zM133,152v2h1v-2zM134,150v2h1v-2zM135,148v2h1v-2zM136,147h1v1h-1zM137,145v2h1v-2zM138,144h1v1h-1zM139,142v2h1v-2zM140,140v2h1v-2zM141,139h1v1h-1zM142,137v2h1v-2zM143,136h1v1h-1zM144,135h1v1h-1zM145,133v2h1v-2zM146,132h1v1h-1zM147,131h1v1h-1zM148,129v2h1v-2zM149,128h1v1h-1zM150,127h1v1h-1zM151,126h1v1h-1zM152,125h1v1h-1zM153,123v2h1v-2zM154,122h1v1h-1zM155,121h1v1h-1zM156,120h1v1h-1zM157,119h1v1h-1zM158,117v2h1v-2zM159,116h1v1h-1zM160,115h1v1h-1zM161,113v2h1v-2zM162,112h1v1h-1zM163,111h1v1h-1zM164,110h1v1h-1zM165,109h1v1h-1zM166,107v2h1v-2zM167,106h1v1h-1zM168,105h1v1h-1zM169,104h1v1h-1zM170,102v2h1v-2zM171,101h1v1h-1zM172,99v2h1v-2zM173,98h1v1h-1zM174,96v2h1v-2zM175,95h8v1h-8zM183,96v2h1v-2zM184,98h1v1h-1zM185,99v2h1v-2zM186,101h1v1h-1zM187,102v2h1v-2zM188,104h1v1h-1zM189,105h2v1h-2zM191,106h1v1h-1zM192,107h1v1h-1zM193,108h2v1h-2zM195,109h3v1h-3zM198,110h5v1h-5zM203,111h2v1h-2zM205,112h2v1h-2zM207,113h2v1h-2zM209,112h1v1h-1zM210,110v2h1v-2zM211,109h1v1h-1zM212,108h1v1h-1zM213,106v2h1v-2zM214,105h1v1h-1zM215,104h1v1h-1zM216,103h1v1h-1zM217,102h1v1h-1zM218,101h1v1h-1zM219,100h1v1h-1zM220,99h1v1h-1zM221,98v2h1v-2zM222,100v2h1v-2zM223,102v3h1v-3zM224,105v2h1v-2zM225,107v3h1v-3zM226,110v2h1v-2zM227,112v3h1v-3zM228,115v4h1v-4zM229,119v4h1v-4zM230,123v4h1v-4zM231,127v4h1v-4zM232,131v4h1v-4zM233,135v4h1v-4zM234,139v4h1v-4zM235,143v4h1v-4zM236,147v4h1v-4zM237,151v4h1v-4zM238,155v4h1v-4zM239,159v4h1v-4zM240,163v5h1v-5zM241,168v6h1v-6zM242,174v6h1v-6zM243,180v5h1v-5zM244,185v6h1v-6zM245,191v6h1v-6zM246,197v6h1v-6zM247,203v7h1v-7zM248,210v8h1v-8zM249,218v8h1v-8zM250,226v8h1v-8zM251,234v8h1v-8zM252,242v8h1v-8zM253,250v6h1v-6zM254,256v3h1v-3zM255,259v2h1v-2zM256,261v3h1v-3zM257,264v3h1v-3zM258,267v2h1v-2zM259,269v3h1v-3zM260,272v3h1v-3zM261,275v2h1v-2zM262,277v2h1v-2zM263,279v3h1v-3zM264,282v2h1v-2zM265,284v2h1v-2zM266,286v2h1v-2zM267,288v2h1v-2zM268,290v2h1v-2zM269,292v2h1v-2zM270,294v2h1v-2zM271,296v2h1v-2zM272,298v2h1v-2zM273,300h1v1h-1zM274,299h1v1h-1zM275,298h1v1h-1zM276,297h2v1h-2zM278,296h1v1h-1zM279,294v2h1v-2zM280,292v2h1v-2zM281,289v3h1v-3zM282,287v2h1v-2zM283,284v3h1v-3zM284,281v3h1v-3zM285,279v2h1v-2zM286,277v2h1v-2zM287,275v2h1v-2zM288,274h1v1h-1zM289,272v2h1v-2zM290,271h1v1h-1zM291,269v2h1v-2zM292,268h1v1h-1zM293,267h1v1h-1zM294,266h1v1h-1zM295,265h2v1h-2zM297,264h1v1h-1zM298,263h1v1h-1zM299,262h1v1h-1zM300,263h1v1h-1zM301,264v2h1v-2zM302,266h1v1h-1zM303,267h1v1h-1zM304,268v2h1v-2zM305,270v2h1v-2zM306,272v3h1v-3zM307,275v4h1v-4zM308,279v3h1v-3zM309,282v3h1v-3zM310,285v4h1v-4zM311,289v3h1v-3zM312,292v3h1v-3zM313,295v4h1v-4zM314,299v4h1v-4zM315,303v4h1v-4zM316,307v4h1v-4zM317,311v4h1v-4zM318,315v4h1v-4zM319,319v4h1v-4zM320,323v4h1v-4zM321,327v3h1v-3zM322,330v4h1v-4zM323,334v4h1v-4zM324,338v3h1v-3zM325,341v3h1v-3zM326,344v3h1v-3zM327,347v3h1v-3zM328,350v4h1v-4zM329,354v3h1v-3zM330,357v3h1v-3zM331,360v3h1v-3zM332,363v3h1v-3zM333,366v4h1v-4zM334,370v3h1v-3zM335,373v3h1v-3zM336,376v4h1v-4zM337,380v2h1v-2zM338,382h2v1h-2zM340,383h1v1h-1zM341,384h1v1h-1zM342,385h2v1h-2zM344,386h1v1h-1zM345,387h2v1h-2zM347,388h2v1h-2zM349,389h2v1h-2zM351,390h2v1h-2zM353,391h1v1h-1zM354,392h1v1h-1zM355,393h2v1h-2zM357,394h1v1h-1zM358,393h1v1h-1zM359,392h1v1h-1zM360,391h1v1h-1zM361,390h1v1h-1zM362,389h1v1h-1zM363,388h1v1h-1zM364,386v2h1v-2zM365,384v2h1v-2zM366,383h1v1h-1zM367,381v2h1v-2zM368,379v2h1v-2zM369,377v2h1v-2zM370,375v2h1v-2zM371,373v2h1v-2zM372,370v3h1v-3zM373,367v3h1v-3zM374,365v2h1v-2zM375,362v3h1v-3zM376,360v2h1v-2zM377,359h1v1h-1zM378,358h1v1h-1zM379,357h2v1h-2zM381,356h1v1h-1zM382,355h1v1h-1zM383,354h1v1h-1zM384,352v2h1v-2zM385,351h1v1h-1zM386,349v2h1v-2zM387,348h1v1h-1zM388,346v2h1v-2zM389,345h1v1h-1zM390,344h2v1h-2zM392,343h1v1h-1zM393,342h1v1h-1zM394,341h2v1h-2zM396,340h1v1h-1zM397,341h1v1h-1zM398,342h1v1h-1zM399,343h1v1h-1zM400,344h1v1h-1zM401,345h1v1h-1zM402,346h1v1h-1zM403,347h1v1h-1zM404,348h1v1h-1zM405,349h1v1h-1zM406,350h1v1h-1zM407,351h1v1h-1zM408,352h1v1h-1zM409,353h1v1h-1zM410,354h2v1h-2zM412,355h1v1h-1zM413,356h2v1h-2zM415,357h1v1h-1zM416,358h2v1h-2zM418,359h2v1h-2zM420,360h2v1h-2zM422,361h1v1h-1zM423,360h1v1h-1zM424,358v2h1v-2zM425,357h1v1h-1zM426,356h1v1h-1zM427,354v2h1v-2zM428,352v2h1v-2zM429,350v2h1v-2zM430,347v3h1v-3zM431,345v2h1v-2zM432,342v3h1v-3zM433,339v3h1v-3zM434,337v2h1v-2zM435,334v3h1v-3zM436,332v2h1v-2zM437,329v3h1v-3zM438,326v3h1v-3zM439,324v2h1v-2zM440,321v3h1v-3zM441,318v3h1v-3zM442,316v2h1v-2zM443,314v2h1v-2zM444,312v2h1v-2zM445,310v2h1v-2zM446,308v2h1v-2zM447,306v2h1v-2zM448,303v3h1v-3zM449,301v2h1v-2zM450,298v3h1v-3zM451,296v2h1v-2zM452,293v3h1v-3zM453,291v2h1v-2zM454,289v2h1v-2zM455,288h1v1h-1zM456,287h1v1h-1zM457,286h2v1h-2zM459,285h1v1h-1zM460,284h1v1h-1zM461,283h1v1h-1zM462,282h2v1h-2zM464,281h1v1h-1zM465,280h2v1h-2zM467,279h2v1h-2zM469,278h4v1h-4zM473,277h8v1h-8zM481,276h2v1h-2zM483,275h1v1h-1zM484,274h1v1h-1zM485,273h2v1h-2zM487,272h1v1h-1zM488,271h2v1h-2zM490,270h1v1h-1zM491,269h2v1h-2zM493,268h1v1h-1zM494,267h2v1h-2zM496,266h1v1h-1zM497,265h1v1h-1zM498,264h2v1h-2zM500,263h1v1h-1zM501,261v2h1v-2zM502,259v2h1v-2zM503,257v2h1v-2zM504,255v2h1v-2zM505,253v2h1v-2zM506,252h1v1h-1zM507,250v2h1v-2zM508,249h1v1h-1zM509,247v2h1v-2zM510,245v2h1v-2zM511,244h1v1h-1zM512,242v2h1v-2zM513,240v2h1v-2zM514,238v2h1v-2zM515,235v3h1v-3zM516,233v2h1v-2zM517,230v3h1v-3zM518,228v2h1v-2zM519,225v3h1v-3zM520,223v2h1v-2zM521,220v3h1v-3zM522,218v2h1v-2zM523,215v3h1v-3zM524,212v3h1v-3zM525,210v2h1v-2zM526,206v4h1v-4zM527,202v4h1v-4zM528,198v4h1v-4zM529,194v4h1v-4zM530,190v4h1v-4zM531,186v4h1v-4zM532,182v4h1v-4zM533,178v4h1v-4zM534,174v4h1v-4zM535,170v4h1v-4zM536,166v4h1v-4zM537,162v4h1v-4zM538,158v4h1v-4zM539,155v3h1v-3zM540,152v3h1v-3zM541,148v4h1v-4zM542,145v3h1v-3zM543,142v3h1v-3zM544,138v4h1v-4zM545,135v3h1v-3zM546,132v3h1v-3zM547,129v3h1v-3zM548,126v3h1v-3zM549,123v3h1v-3zM550,120v3h1v-3zM551,117v3h1v-3zM552,114v3h1v-3zM553,112v2h1v-2zM554,110v2h1v-2zM555,107v3h1v-3zM556,105v2h1v-2zM557,103v2h1v-2zM558,101v2h1v-2zM559,100h1v1h-1zM560,99h1v1h-1zM561,98h1v1h-1zM562,96v2h1v-2zM563,95h1v1h-1zM564,94h1v1h-1zM565,93h1v1h-1zM566,92h1v1h-1zM567,91h1v1h-1zM568,90h2v1h-2zM570,89h1v1h-1zM571,88h1v1h-1zM572,86v2h1v-2zM573,85h1v1h-1zM574,83v2h1v-2zM575,82h1v1h-1zM576,80v2h1v-2zM577,79h1v1h-1zM578,78h1v1h-1zM579,77h1v1h-1zM580,76h1v1h-1zM581,75h1v1h-1zM582,74h1v1h-1zM583,73h1v1h-1zM584,72v2h1v-2zM585,74v2h1v-2zM586,76v2h1v-2zM587,78v2h1v-2zM588,80v2h1v-2zM589,82v2h1v-2zM590,84v3h1v-3zM591,87v2h1v-2zM592,89v2h1v-2zM593,91v2h1v-2zM594,93v2h1v-2zM595,95v2h1v-2zM596,97v2h1v-2zM597,99v2h1v-2zM598,101h1v1h-1zM599,102h1v1h-1zM600,103h1v1h-1zM601,104h1v1h-1zM602,105h1v1h-1zM603,106h1v1h-1zM604,107v2h1v-2zM605,109v2h1v-2zM606,111v2h1v-2zM607,113v2h1v-2zM608,115v2h1v-2zM609,117v2h1v-2zM610,119v3h1v-3zM611,122v2h1v-2zM612,124v2h1v-2zM613,126v2h1v-2zM614,128v2h1v-2zM615,130v2h1v-2zM616,132v2h1v-2zM617,132h1v1h-1zM618,131h1v1h-1zM619,130h1v1h-1zM620,128v2h1v-2zM621,127h1v1h-1zM622,126h1v1h-1zM623,125h1v1h-1zM624,123v2h1v-2zM625,121v2h1v-2zM626,119v2h1v-2zM627,117v2h1v-2zM628,115v2h1v-2zM629,113v2h1v-2zM630,112h2v1h-2zM632,111h2v1h-2zM634,110h2v1h-2zM636,109h2v1h-2zM638,108h3v1h-3zM641,107h3v1h-3zM644,106h4v1h-4zM648,105h2v1h-2zM650,106h2v1h-2zM652,107h2v1h-2zM654,108h2v1h-2zM656,109v2h1v-2zM657,111v2h1v-2zM658,113v2h1v-2zM659,115v2h1v-2zM660,117v2h1v-2zM661,119v2h1v-2zM662,121h1v1h-1zM663,122v2h1v-2zM664,124v2h1v-2zM665,126v2h1v-2zM666,128v2h1v-2zM667,130v2h1v-2zM668,132h1v1h-1zM669,133h1v1h-1zM670,134h1v1h-1zM671,135h2v1h-2zM673,136h1v1h-1zM674,137h1v1h-1zM675,138h1v1h-1zM676,139h1v1h-1zM677,140h1v1h-1zM678,141v2h1v-2zM679,143h1v1h-1zM680,144h1v1h-1zM681,145h1v1h-1zM682,146h1v1h-1zM683,147v2h1v-2zM684,149h1v1h-1zM685,150h1v1h-1zM686,151v2h1v-2zM687,153h1v1h-1zM688,154h2v1h-2zM690,155h3v1h-3zM693,156h3v1h-3zM696,157h4v1h-4zM700,158h2v1h-2zM702,157h2v1h-2zM704,156h1v1h-1zM705,155h2v1h-2zM707,154h1v1h-1zM708,153h1v1h-1zM709,152h1v1h-1zM710,151h1v1h-1zM711,149v2h1v-2zM712,148h1v1h-1zM713,147h1v1h-1zM714,146h1v1h-1zM715,145h1v1h-1zM716,143v2h1v-2zM717,142h1v1h-1zM718,141h1v1h-1zM719,139v2h1v-2zM720,138h1v1h-1zM721,137h1v1h-1zM722,136h1v1h-1zM723,135h1v1h-1zM724,133v2h1v-2zM725,132h1v1h-1zM726,131h1v1h-1zM727,130h1v1h-1zM728,129h1v1h-1zM729,127v2h1v-2zM730,126h1v1h-1zM731,125h1v1h-1zM732,123v2h1v-2zM733,122h2v1h-2zM735,123h2v1h-2zM737,124h2v1h-2zM739,125h2v1h-2zM741,126h1v1h-1zM742,127h1v1h-1zM743,128v2h1v-2zM744,130h1v1h-1zM745,131h1v1h-1zM746,132h8v1h-8zM754,130v2h1v-2zM755,128v2h1v-2zM756,127h1v1h-1zM757,125v2h1v-2zM758,123v2h1v-2zM759,121v2h1v-2zM760,119v2h1v-2zM761,117v2h1v-2zM762,115v2h1v-2zM763,112v3h1v-3zM764,110v2h1v-2zM765,108v2h1v-2zM766,105v3h1v-3zM767,102v3h1v-3zM768,99v3h1v-3zM769,95v4h1v-4zM770,92v3h1v-3zM771,89v3h1v-3zM772,86v3h1v-3zM773,83v3h1v-3zM774,80v3h1v-3zM775,78v2h1v-2zM776,75v3h1v-3zM777,72v3h1v-3zM778,69v3h1v-3zM779,67v2h1v-2zM780,65v2h1v-2zM781,64h1v1h-1zM782,62v2h1v-2zM783,61h1v1h-1zM784,59v2h1v-2zM785,58h4v1h-4zM789,59h13v1h-13zM802,58h4v1h-4zM806,59h1v1h-1zM807,60h1v1h-1zM808,61v2h1v-2zM809,63h1v1h-1zM810,64h1v1h-1zM811,65v2h1v-2zM812,67v3h1v-3zM813,70v2h1v-2zM814,72v3h1v-3zM815,75v3h1v-3zM816,78v2h1v-2zM817,80v3h1v-3zM818,83v3h1v-3zM819,86v3h1v-3zM820,89v3h1v-3zM821,92v2h1v-2zM822,94v3h1v-3zM823,97v3h1v-3zM824,100v3h1v-3zM825,103v4h1v-4zM826,107v4h1v-4zM827,111v4h1v-4zM828,115v4h1v-4zM829,119v4h1v-4zM830,123v4h1v-4zM831,127v3h1v-3zM832,130v4h1v-4zM833,134v4h1v-4zM834,138v4h1v-4zM835,142v4h1v-4zM836,146v4h1v-4zM837,150v2h1v-2zM838,152v2h1v-2zM839,154v2h1v-2zM840,156v2h1v-2zM841,158v2h1v-2zM842,160v2h1v-2zM843,162v2h1v-2zM844,164h1v1h-1zM845,165h1v1h-1zM846,166h1v1h-1zM847,167v2h1v-2zM848,169h1v1h-1zM849,170h1v1h-1zM850,171v2h1v-2zM851,173v2h1v-2zM852,175v3h1v-3zM853,178v2h1v-2zM854,180v3h1v-3zM855,183v2h1v-2zM856,185v3h1v-3zM857,188v2h1v-2zM858,190v3h1v-3zM859,193v2h1v-2zM860,195v3h1v-3zM861,198v3h1v-3zM862,201v2h1v-2zM863,203v4h1v-4zM864,207v6h1v-6zM865,213v6h1v-6zM866,219v5h1v-5zM867,224v6h1v-6zM868,230v6h1v-6zM869,236v5h1v-5zM870,241v4h1v-4zM871,245v4h1v-4zM872,249v4h1v-4zM873,253v5h1v-5zM874,258v4h1v-4zM875,262v4h1v-4zM876,266v4h1v-4zM877,270v2h1v-2zM878,272v3h1v-3zM879,275v2h1v-2zM880,277v3h1v-3zM881,280v2h1v-2zM882,282v2h1v-2zM883,284v2h1v-2zM884,286h1v1h-1zM885,287h1v1h-1zM886,288v2h1v-2zM887,290h1v1h-1zM888,291v2h1v-2zM889,293h1v1h-1zM890,294h1v1h-1zM891,295h1v1h-1zM892,296h1v1h-1zM893,297h1v1h-1zM894,298h1v1h-1zM895,299h1v1h-1zM896,298h2v1h-2zM898,297h1v1h-1zM899,296h1v1h-1zM900,295h2v1h-2zM902,294h1v1h-1zM903,295h1v1h-1zM904,296h1v1h-1zM905,297h2v1h-2zM907,298h1v1h-1zM908,299h2v1h-2zM910,298h4v1h-4zM914,297h2v1h-2zM916,298h2v1h-2zM918,299h2v1h-2zM920,300h2v1h-2zM921,301h1v1h-1zM922,302v2h1v-2zM923,304v2h1v-2zM924,306v2h1v-2zM925,308v2h1v-2zM926,310v2h1v-2zM927,312v2h1v-2zM928,314v3h1v-3zM929,317v2h1v-2zM930,319v2h1v-2zM931,321v2h1v-2zM932,323v2h1v-2zM933,325v2h1v-2zM934,327v2h1v-2zM935,328h3v1h-3zM938,329h4v1h-4zM942,330h2v1h-2zM944,331h1v1h-1zM945,332h2v1h-2zM947,333h2v1h-2zM949,332h2v1h-2zM951,331h2v1h-2zM953,330h2v1h-2zM954,329h1v1h-1zM955,327v2h1v-2zM956,325v2h1v-2zM957,322v3h1v-3zM958,320v2h1v-2zM959,318v2h1v-2zM960,315v3h1v-3zM961,313v2h1v-2zM962,310v3h1v-3zM963,308v2h1v-2zM964,305v3h1v-3zM965,302v3h1v-3zM966,300v2h1v-2zM967,297v3h1v-3zM968,295v2h1v-2zM969,293v2h1v-2zM970,290v3h1v-3zM971,288v2h1v-2zM972,286v2h1v-2zM973,284v2h1v-2zM974,283h1v1h-1zM975,281v2h1v-2zM976,280h1v1h-1zM977,279h1v1h-1zM978,277v2h1v-2zM979,276h1v1h-1zM980,275h1v1h-1zM981,273v2h1v-2zM982,272h1v1h-1zM983,270v2h1v-2zM984,269h1v1h-1zM985,267v2h1v-2zM986,266h1v1h-1zM987,265h1v1h-1zM988,263v2h1v-2zM989,262h1v1h-1zM990,261h1v1h-1zM991,259v2h1v-2zM992,258h1v1h-1zM993,257h1v1h-1zM994,255v2h1v-2zM995,253v2h1v-2zM996,251v2h1v-2zM997,249v2h1v-2zM998,247v2h1v-2zM999,245v2h1v-2zM1000,244h1v1h-1zM1001,243h1v1h-1zM1002,242h1v1h-1zM1003,240v2h1v-2zM1004,239h1v1h-1zM1005,238h1v1h-1zM1006,237h1v1h-1zM1007,236h1v1h-1zM1008,234v2h1v-2zM1009,233h1v1h-1zM1010,232h1v1h-1zM1011,230v2h1v-2zM1012,229h2v1h-2zM1014,228h2v1h-2zM1016,227h2v1h-2zM1018,226h2v1h-2zM1020,224v2h1v-2zM1021,223h1v1h-1zM1022,221v2h1v-2zM1023,220h1v1h-1zM1024,218v2h1v-2zM1025,217h1v1h-1zM1026,216h1v1h-1zM1027,215h1v1h-1zM1028,214h2v1h-2zM1030,213h1v1h-1zM1031,212h1v1h-1zM1032,211h1v1h-1zM1033,210h2v1h-2zM1035,209h2v1h-2zM1037,208h2v1h-2zM1039,207h1v1h-1zM1040,206h1v1h-1zM1041,205h2v1h-2zM1043,204h1v1h-1zM1044,203h1v1h-1zM1045,201v2h1v-2zM1046,199v2h1v-2zM1047,196v3h1v-3zM1048,194v2h1v-2zM1049,191v3h1v-3zM1050,189v2h1v-2zM1051,186v3h1v-3zM1052,184v2h1v-2zM1053,182v2h1v-2zM1054,180v2h1v-2zM1055,178v2h1v-2zM1056,176v2h1v-2zM1057,174v2h1v-2zM1058,171v3h1v-3zM1059,168v3h1v-3zM1060,165v3h1v-3zM1061,162v3h1v-3zM1062,159v3h1v-3zM1063,156v3h1v-3zM1064,154v2h1v-2zM1065,152v2h1v-2zM1066,151h1v1h-1zM1067,149v2h1v-2zM1068,147v2h1v-2zM1069,146h1v1h-1zM1070,144v2h1v-2zM1071,142v2h1v-2zM1072,139v3h1v-3zM1073,136v3h1v-3zM1074,134v2h1v-2zM1075,131v3h1v-3zM1076,128v3h1v-3zM1077,125v3h1v-3zM1078,123v2h1v-2zM1079,120v3h1v-3zM1080,118v2h1v-2zM1081,115v3h1v-3zM1082,112v3h1v-3zM1083,110v2h1v-2zM1084,108v2h1v-2zM1085,106v2h1v-2zM1086,104v2h1v-2zM1087,102v2h1v-2zM1088,100v2h1v-2zM1089,98v2h1v-2zM1090,96v2h1v-2zM1091,95h2v1h-2zM1093,94h1v1h-1zM1094,93h2v1h-2zM1096,91v2h1v-2zM1097,89v2h1v-2zM1098,86v3h1v-3zM1099,84v2h1v-2zM1100,82v2h1v-2zM1101,79v3h1v-3zM1102,77v2h1v-2zM1103,75v2h1v-2zM1104,73v2h1v-2zM1105,71v2h1v-2zM1106,69v2h1v-2zM1107,67v2h1v-2zM1108,65v2h1v-2zM1109,63v2h1v-2zM1110,62h2v1h-2zM1112,61h2v1h-2zM1114,60h2v1h-2zM1116,59h1v1h-1zM1117,60h2v1h-2zM1119,61h1v1h-1zM1120,62h2v1h-2zM1122,63h2v1h-2zM1124,62h2v1h-2zM1126,61h2v1h-2zM1128,60h4v1h-4zM1132,61h5v1h-5zM1137,62h4v1h-4zM1141,63h4v1h-4zM1145,62h4v1h-4z" fill="#0000ff"/></g>
<polyline points="785.5,32.5 806.5,37.5" stroke="#0000ff" fill="none" shape-rendering="crispEdges"/>
<text x="807.5" y="48.2" fill="#0000ff" font-size="12" text-anchor="start" >2131.9800</text>
<polyline points="337.5,421 357,416" stroke="#0000ff" fill="none" shape-rendering="crispEdges"/>
<text x="357.5" y="418.6" fill="#0000ff" font-size="12" text-anchor="start" textLength="58.5">1874.2100</text>
<text x="9.5 15.5 21.5 27.5 33.5 39.5 45.5 51.5 57.5" y="419" fill="#222" font-size="11" text-anchor="middle">1874.2100</text>
<text x="15.5 21.5 27.5 33.5 39.5 45.5 51.5 57.5" y="444" fill="#222" font-size="11" text-anchor="middle">27260327</text>
<text x="15.5 21.5 27.5 33.5 39.5 45.5 51.5 57.5" y="461" fill="#222" font-size="11" text-anchor="middle">18173552</text>
<text x="21.5 27.5 33.5 39.5 45.5 51.5 57.5" y="478" fill="#222" font-size="11" text-anchor="middle">9086776</text>
<text x="33.5 39.5 45.5 51.5 57.5" y="519" fill="#222" font-size="11" text-anchor="middle">34.12</text>
<text x="33.5 39.5 45.5 51.5 57.5" y="538" fill="#222" font-size="11" text-anchor="middle">15.47</text>
<text x="33.5 39.5 45.5 51.5 57.5" y="557" fill="#222" font-size="11" text-anchor="middle">−3.19</text>
<text x="27.5 33.5 39.5 45.5 51.5 57.5" y="576" fill="#222" font-size="11" text-anchor="middle">−21.85</text>
<g shape-rendering="crispEdges"><rect x="63" y="458" width="5" height="33" fill="#008000"/><rect x="69" y="463" width="5" height="28" fill="#008000"/><rect x="76.5" y="459.5" width="4" height="31" fill="#fff" stroke="#ff0000" stroke-width="1"/><rect x="82.5" y="451.5" width="4" height="39" fill="#fff" stroke="#ff0000" stroke-width="1"/><rect x="89" y="446" width="5" height="45" fill="#008000"/><rect x="95.5" y="457.5" width="4" height="33" fill="#fff" stroke="#ff0000" stroke-width="1"/><rect x="102" y="454" width="5" height="37" fill="#008000"/><rect x="108.5" y="465.5" width="4" height="25" fill="#fff" stroke="#ff0000" stroke-width="1"/><rect x="115.5" y="465.5" width="4" height="25" fill="#fff" stroke="#ff0000" stroke-width="1"/><rect x="121.5" y="460.5" width="4" height="30" fill="#fff" stroke="#ff0000" stroke-width="1"/><rect x="128.5" y="458.5" width="4" height="32" fill="#fff" stroke="#ff0000" stroke-width="1"/><rect x="134" y="462" width="5" height="29" fill="#008000"/><rect x="141.5" y="463.5" width="4" height="27" fill="#fff" stroke="#ff0000" stroke-width="1"/><rect x="147" y="466" width="5" height="25" fill="#008000"/><rect x="154.5" y="462.5" width="4" height="28" fill="#fff" stroke="#ff0000" stroke-width="1"/><rect x="160.5" y="465.5" width="4" height="25" fill="#fff" stroke="#ff0000" stroke-width="1"/><rect x="167" y="467" width="5" height="24" fill="#008000"/><rect x="173.5" y="461.5" width="4" height="29" fill="#fff" stroke="#ff0000" stroke-width="1"/><rect x="180" y="461" width="5" height="30" fill="#008000"/><rect x="186" y="442" width="5" height="49" fill="#008000"/><rect x="193.5" y="459.5" width="4" height="31" fill="#fff" stroke="#ff0000" stroke-width="1"/><rect x="199.5" y="468.5" width="4" height="22" fill="#fff" stroke="#ff0000" stroke-width="1"/><rect x="206.5" y="465.5" width="4" height="25" fill="#fff" stroke="#ff0000" stroke-width="1"/><rect x="212.5" y="464.5" width="4" height="26" fill="#fff" stroke="#ff0000" stroke-width="1"/><rect x="219" y="466" width="5" height="25" fill="#008000"/><rect x="225" y="461" width="5" height="30" fill="#008000"/><rect x="232" y="467" width="5" height="24" fill="#008000"/><rect x="238.5" y="473.5" width="4" height="17" fill="#fff" stroke="#ff0000" stroke-width="1"/><rect x="245" y="473" width="5" height="18" fill="#008000"/><rect x="251" y="470" width="5" height="21" fill="#008000"/><rect x="258.5" y="475.5" width="4" height="15" fill="#fff" stroke="#ff0000" stroke-width="1"/><rect x="264.5" y="477.5" width="4" height="13" fill="#fff" stroke="#ff0000" stroke-width="1"/><rect x="271.5" y="477.5" width="4" height="13" fill="#fff" stroke="#ff0000" stroke-width="1"/><rect x="277.5" y="478.5" width="4" height="12" fill="#fff" stroke="#ff0000" stroke-width="1"/><rect x="284.5" y="474.5" width="4" height="16" fill="#fff" stroke="#ff0000" stroke-width="1"/><rect x="290" y="479" width="5" height="12" fill="#008000"/><rect x="297.5" y="479.5" width="4" height="11" fill="#fff" stroke="#ff0000" stroke-width="1"/><rect x="303" y="478" width="5" height="13" fill="#008000"/><rect x="310" y="474" width="5" height="17" fill="#008000"/><rect x="316.5" y="478.5" width="4" height="12" fill="#fff" stroke="#ff0000" stroke-width="1"/><rect x="322" y="479" width="5" height="12" fill="#008000"/><rect x="329" y="478" width="5" height="13" fill="#008000"/><rect x="335" y="482" width="5" height="9" fill="#008000"/><rect x="342.5" y="483.5" width="4" height="7" fill="#fff" stroke="#ff0000" stroke-width="1"/><rect x="348.5" y="483.5" width="4" height="7" fill="#fff" stroke="#ff0000" stroke-width="1"/><rect x="355" y="482" width="5" height="9" fill="#008000"/><rect x="361.5" y="482.5" width="4" height="8" fill="#fff" stroke="#ff0000" stroke-width="1"/><rect x="368.5" y="481.5" width="4" height="9" fill="#fff" stroke="#ff0000" stroke-width="1"/><rect x="374.5" y="479.5" width="4" height="11" fill="#fff" stroke="#ff0000" stroke-width="1"/><rect x="381" y="477" width="5" height="14" fill="#008000"/><rect x="387" y="477" width="5" height="14" fill="#008000"/><rect x="394" y="479" width="5" height="12" fill="#008000"/><rect x="400" y="480" width="5" height="11" fill="#008000"/><rect x="407.5" y="483.5" width="4" height="7" fill="#fff" stroke="#ff0000" stroke-width="1"/><rect x="413.5" y="480.5" width="4" height="10" fill="#fff" stroke="#ff0000" stroke-width="1"/><rect x="420" y="480" width="5" height="11" fill="#008000"/><rect x="426.5" y="473.5" width="4" height="17" fill="#fff" stroke="#ff0000" stroke-width="1"/><rect x="433.5" y="475.5" width="4" height="15" fill="#fff" stroke="#ff0000" stroke-width="1"/><rect x="439" y="479" width="5" height="12" fill="#008000"/><rect x="446.5" y="469.5" width="4" height="21" fill="#fff" stroke="#ff0000" stroke-width="1"/><rect x="452" y="471" width="5" height="20" fill="#008000"/><rect x="459" y="474" width="5" height="17" fill="#008000"/><rect x="465.5" y="472.5" width="4" height="18" fill="#fff" stroke="#ff0000" stroke-width="1"/><rect x="472" y="474" width="5" height="17" fill="#008000"/><rect x="478.5" y="475.5" width="4" height="15" fill="#fff" stroke="#ff0000" stroke-width="1"/><rect x="485.5" y="474.5" width="4" height="16" fill="#fff" stroke="#ff0000" stroke-width="1"/><rect x="491" y="474" width="5" height="17" fill="#008000"/><rect x="498.5" y="472.5" width="4" height="18" fill="#fff" stroke="#ff0000" stroke-width="1"/><rect x="504.5" y="476.5" width="4" height="14" fill="#fff" stroke="#ff0000" stroke-width="1"/><rect x="511.5" y="474.5" width="4" height="16" fill="#fff" stroke="#ff0000" stroke-width="1"/><rect x="517.5" y="465.5" width="4" height="25" fill="#fff" stroke="#ff0000" stroke-width="1"/><rect x="524.5" y="465.5" width="4" height="25" fill="#fff" stroke="#ff0000" stroke-width="1"/><rect x="530.5" y="464.5" width="4" height="26" fill="#fff" stroke="#ff0000" stroke-width="1"/><rect x="537.5" y="468.5" width="4" height="22" fill="#fff" stroke="#ff0000" stroke-width="1"/><rect x="543" y="466" width="5" height="25" fill="#008000"/><rect x="550.5" y="467.5" width="4" height="23" fill="#fff" stroke="#ff0000" stroke-width="1"/><rect x="556" y="469" width="5" height="22" fill="#008000"/><rect x="563.5" y="466.5" width="4" height="24" fill="#fff" stroke="#ff0000" stroke-width="1"/><rect x="569" y="468" width="5" height="23" fill="#008000"/><rect x="575.5" y="468.5" width="4" height="22" fill="#fff" stroke="#ff0000" stroke-width="1"/><rect x="582.5" y="468.5" width="4" height="22" fill="#fff" stroke="#ff0000" stroke-width="1"/><rect x="588" y="460" width="5" height="31" fill="#008000"/><rect x="595.5" y="471.5" width="4" height="19" fill="#fff" stroke="#ff0000" stroke-width="1"/><rect x="601.5" y="475.5" width="4" height="15" fill="#fff" stroke="#ff0000" stroke-width="1"/><rect x="608" y="472" width="5" height="19" fill="#008000"/><rect x="614.5" y="475.5" width="4" height="15" fill="#fff" stroke="#ff0000" stroke-width="1"/><rect x="621.5" y="468.5" width="4" height="22" fill="#fff" stroke="#ff0000" stroke-width="1"/><rect x="627.5" y="464.5" width="4" height="26" fill="#fff" stroke="#ff0000" stroke-width="1"/><rect x="634" y="465" width="5" height="26" fill="#008000"/><rect x="640" y="470" width="5" height="21" fill="#008000"/><rect x="647.5" y="473.5" width="4" height="17" fill="#fff" stroke="#ff0000" stroke-width="1"/><rect x="653" y="469" width="5" height="22" fill="#008000"/><rect x="660" y="469" width="5" height="22" fill="#008000"/><rect x="666.5" y="470.5" width="4" height="20" fill="#fff" stroke="#ff0000" stroke-width="1"/><rect x="673" y="473" width="5" height="18" fill="#008000"/><rect x="679" y="464" width="5" height="27" fill="#008000"/><rect x="686" y="466" width="5" height="25" fill="#008000"/><rect x="692.5" y="470.5" width="4" height="20" fill="#fff" stroke="#ff0000" stroke-width="1"/><rect x="699.5" y="470.5" width="4" height="20" fill="#fff" stroke="#ff0000" stroke-width="1"/><rect x="705.5" y="470.5" width="4" height="20" fill="#fff" stroke="#ff0000" stroke-width="1"/><rect x="712.5" y="468.5" width="4" height="22" fill="#fff" stroke="#ff0000" stroke-width="1"/><rect x="718" y="468" width="5" height="23" fill="#008000"/><rect x="725" y="468" width="5" height="23" fill="#008000"/><rect x="731.5" y="471.5" width="4" height="19" fill="#fff" stroke="#ff0000" stroke-width="1"/><rect x="738" y="469" width="5" height="22" fill="#008000"/><rect x="744" y="465" width="5" height="26" fill="#008000"/><rect x="751.5" y="465.5" width="4" height="25" fill="#fff" stroke="#ff0000" stroke-width="1"/><rect x="757.5" y="456.5" width="4" height="34" fill="#fff" stroke="#ff0000" stroke-width="1"/><rect x="764.5" y="459.5" width="4" height="31" fill="#fff" stroke="#ff0000" stroke-width="1"/><rect x="770" y="466" width="5" height="25" fill="#008000"/><rect x="777.5" y="466.5" width="4" height="24" fill="#fff" stroke="#ff0000" stroke-width="1"/><rect x="783" y="463" width="5" height="28" fill="#008000"/><rect x="790.5" y="470.5" width="4" height="20" fill="#fff" stroke="#ff0000" stroke-width="1"/><rect x="796.5" y="467.5" width="4" height="23" fill="#fff" stroke="#ff0000" stroke-width="1"/><rect x="803" y="465" width="5" height="26" fill="#008000"/><rect x="809" y="471" width="5" height="20" fill="#008000"/><rect x="816" y="463" width="5" height="28" fill="#008000"/><rect x="822.5" y="469.5" width="4" height="21" fill="#fff" stroke="#ff0000" stroke-width="1"/><rect x="829" y="477" width="5" height="14" fill="#008000"/><rect x="835.5" y="472.5" width="4" height="18" fill="#fff" stroke="#ff0000" stroke-width="1"/><rect x="841.5" y="469.5" width="4" height="21" fill="#fff" stroke="#ff0000" stroke-width="1"/><rect x="848" y="474" width="5" height="17" fill="#008000"/><rect x="854" y="473" width="5" height="18" fill="#008000"/><rect x="861" y="480" width="5" height="11" fill="#008000"/><rect x="867" y="474" width="5" height="17" fill="#008000"/><rect x="874.5" y="470.5" width="4" height="20" fill="#fff" stroke="#ff0000" stroke-width="1"/><rect x="880.5" y="478.5" width="4" height="12" fill="#fff" stroke="#ff0000" stroke-width="1"/><rect x="887.5" y="481.5" width="4" height="9" fill="#fff" stroke="#ff0000" stroke-width="1"/><rect x="893.5" y="483.5" width="4" height="7" fill="#fff" stroke="#ff0000" stroke-width="1"/><rect x="900" y="483" width="5" height="8" fill="#008000"/><rect x="906" y="478" width="5" height="13" fill="#008000"/><rect x="913.5" y="480.5" width="4" height="10" fill="#fff" stroke="#ff0000" stroke-width="1"/><rect x="919" y="479" width="5" height="12" fill="#008000"/><rect x="926" y="477" width="5" height="14" fill="#008000"/><rect x="932.5" y="482.5" width="4" height="8" fill="#fff" stroke="#ff0000" stroke-width="1"/><rect x="939.5" y="479.5" width="4" height="11" fill="#fff" stroke="#ff0000" stroke-width="1"/><rect x="945.5" y="477.5" width="4" height="13" fill="#fff" stroke="#ff0000" stroke-width="1"/><rect x="952.5" y="477.5" width="4" height="13" fill="#fff" stroke="#ff0000" stroke-width="1"/><rect x="958" y="479" width="5" height="12" fill="#008000"/><rect x="965.5" y="469.5" width="4" height="21" fill="#fff" stroke="#ff0000" stroke-width="1"/><rect x="971.5" y="463.5" width="4" height="27" fill="#fff" stroke="#ff0000" stroke-width="1"/><rect x="978" y="471" width="5" height="20" fill="#008000"/><rect x="984.5" y="452.5" width="4" height="38" fill="#fff" stroke="#ff0000" stroke-width="1"/><rect x="991" y="465" width="5" height="26" fill="#008000"/><rect x="997.5" y="470.5" width="4" height="20" fill="#fff" stroke="#ff0000" stroke-width="1"/><rect x="1004.5" y="462.5" width="4" height="28" fill="#fff" stroke="#ff0000" stroke-width="1"/><rect x="1010" y="468" width="5" height="23" fill="#008000"/><rect x="1017" y="465" width="5" height="26" fill="#008000"/><rect x="1023.5" y="471.5" width="4" height="19" fill="#fff" stroke="#ff0000" stroke-width="1"/><rect x="1030.5" y="465.5" width="4" height="25" fill="#fff" stroke="#ff0000" stroke-width="1"/><rect x="1036" y="468" width="5" height="23" fill="#008000"/><rect x="1043.5" y="465.5" width="4" height="25" fill="#fff" stroke="#ff0000" stroke-width="1"/><rect x="1049.5" y="468.5" width="4" height="22" fill="#fff" stroke="#ff0000" stroke-width="1"/><rect x="1056.5" y="454.5" width="4" height="36" fill="#fff" stroke="#ff0000" stroke-width="1"/><rect x="1062.5" y="447.5" width="4" height="43" fill="#fff" stroke="#ff0000" stroke-width="1"/><rect x="1069" y="446" width="5" height="45" fill="#008000"/><rect x="1075.5" y="451.5" width="4" height="39" fill="#fff" stroke="#ff0000" stroke-width="1"/><rect x="1082.5" y="457.5" width="4" height="33" fill="#fff" stroke="#ff0000" stroke-width="1"/><rect x="1088" y="462" width="5" height="29" fill="#008000"/><rect x="1094" y="462" width="5" height="29" fill="#008000"/><rect x="1101.5" y="445.5" width="4" height="45" fill="#fff" stroke="#ff0000" stroke-width="1"/><rect x="1107.5" y="447.5" width="4" height="43" fill="#fff" stroke="#ff0000" stroke-width="1"/><rect x="1114" y="452" width="5" height="39" fill="#008000"/><rect x="1120" y="452" width="5" height="39" fill="#008000"/><rect x="1127.5" y="448.5" width="4" height="42" fill="#fff" stroke="#ff0000" stroke-width="1"/><rect x="1133" y="421" width="5" height="70" fill="#008000"/><rect x="1140.5" y="443.5" width="4" height="47" fill="#fff" stroke="#ff0000" stroke-width="1"/><rect x="1146.5" y="452.5" width="4" height="38" fill="#fff" stroke="#ff0000" stroke-width="1"/></g>
<rect x="0" y="491" width="1153" height="2" fill="#8c8c8c"/>
<text x="-1.5" y="505" fill="#0000ff" font-size="11" text-anchor="start" textLength="24" lengthAdjust="spacingAndGlyphs">MACD</text>
<text x="68" y="505" textLength="50.8" lengthAdjust="spacingAndGlyphs" fill="#000000" font-size="12">DIF=29.33</text>
<text x="139.4" y="505" textLength="54.6" lengthAdjust="spacingAndGlyphs" fill="#0000ff" font-size="12">DEA=28.37</text>
<text x="210.5" y="505" textLength="58.2" lengthAdjust="spacingAndGlyphs" fill="#ff00ff" font-size="12">MACD=1.93</text>
<rect x="63" y="508" width="1090" height="1" fill="#a0a0a0"/>
<g shape-rendering="crispEdges"><rect x="65" y="547" width="1" height="4" fill="#ff0000"/><rect x="71" y="548" width="1" height="3" fill="#ff0000"/><rect x="78" y="548" width="1" height="3" fill="#ff0000"/><rect x="84" y="547" width="1" height="4" fill="#ff0000"/><rect x="91" y="548" width="1" height="3" fill="#ff0000"/><rect x="97" y="548" width="1" height="3" fill="#ff0000"/><rect x="104" y="549" width="1" height="2" fill="#ff0000"/><rect x="110" y="550" width="1" height="1" fill="#ff0000"/><rect x="117" y="549" width="1" height="2" fill="#ff0000"/><rect x="123" y="547" width="1" height="4" fill="#ff0000"/><rect x="130" y="547" width="1" height="4" fill="#ff0000"/><rect x="136" y="547" width="1" height="4" fill="#ff0000"/><rect x="143" y="547" width="1" height="4" fill="#ff0000"/><rect x="149" y="547" width="1" height="4" fill="#ff0000"/><rect x="156" y="547" width="1" height="4" fill="#ff0000"/><rect x="162" y="547" width="1" height="4" fill="#ff0000"/><rect x="169" y="547" width="1" height="4" fill="#ff0000"/><rect x="175" y="546" width="1" height="5" fill="#ff0000"/><rect x="188" y="550" width="1" height="5" fill="#008000"/><rect x="195" y="550" width="1" height="7" fill="#008000"/><rect x="201" y="550" width="1" height="7" fill="#008000"/><rect x="208" y="550" width="1" height="5" fill="#008000"/><rect x="214" y="550" width="1" height="2" fill="#008000"/><rect x="221" y="550" width="1" height="6" fill="#008000"/><rect x="227" y="550" width="1" height="15" fill="#008000"/><rect x="234" y="550" width="1" height="24" fill="#008000"/><rect x="240" y="550" width="1" height="26" fill="#008000"/><rect x="247" y="550" width="1" height="33" fill="#008000"/><rect x="253" y="550" width="1" height="41" fill="#008000"/><rect x="260" y="550" width="1" height="41" fill="#008000"/><rect x="266" y="550" width="1" height="37" fill="#008000"/><rect x="273" y="550" width="1" height="31" fill="#008000"/><rect x="279" y="550" width="1" height="25" fill="#008000"/><rect x="286" y="550" width="1" height="18" fill="#008000"/><rect x="292" y="550" width="1" height="14" fill="#008000"/><rect x="299" y="550" width="1" height="11" fill="#008000"/><rect x="305" y="550" width="1" height="12" fill="#008000"/><rect x="312" y="550" width="1" height="18" fill="#008000"/><rect x="318" y="550" width="1" height="17" fill="#008000"/><rect x="324" y="550" width="1" height="18" fill="#008000"/><rect x="331" y="550" width="1" height="19" fill="#008000"/><rect x="337" y="550" width="1" height="20" fill="#008000"/><rect x="344" y="550" width="1" height="18" fill="#008000"/><rect x="350" y="550" width="1" height="11" fill="#008000"/><rect x="357" y="550" width="1" height="9" fill="#008000"/><rect x="363" y="550" width="1" height="4" fill="#008000"/><rect x="376" y="544" width="1" height="7" fill="#ff0000"/><rect x="383" y="540" width="1" height="11" fill="#ff0000"/><rect x="389" y="539" width="1" height="12" fill="#ff0000"/><rect x="396" y="540" width="1" height="11" fill="#ff0000"/><rect x="402" y="542" width="1" height="9" fill="#ff0000"/><rect x="409" y="543" width="1" height="8" fill="#ff0000"/><rect x="415" y="541" width="1" height="10" fill="#ff0000"/><rect x="422" y="542" width="1" height="9" fill="#ff0000"/><rect x="428" y="537" width="1" height="14" fill="#ff0000"/><rect x="435" y="534" width="1" height="17" fill="#ff0000"/><rect x="441" y="532" width="1" height="19" fill="#ff0000"/><rect x="448" y="529" width="1" height="22" fill="#ff0000"/><rect x="454" y="530" width="1" height="21" fill="#ff0000"/><rect x="461" y="531" width="1" height="20" fill="#ff0000"/><rect x="467" y="532" width="1" height="19" fill="#ff0000"/><rect x="474" y="535" width="1" height="16" fill="#ff0000"/><rect x="480" y="535" width="1" height="16" fill="#ff0000"/><rect x="487" y="535" width="1" height="16" fill="#ff0000"/><rect x="493" y="537" width="1" height="14" fill="#ff0000"/><rect x="500" y="537" width="1" height="14" fill="#ff0000"/><rect x="506" y="537" width="1" height="14" fill="#ff0000"/><rect x="513" y="536" width="1" height="15" fill="#ff0000"/><rect x="519" y="534" width="1" height="17" fill="#ff0000"/><rect x="526" y="531" width="1" height="20" fill="#ff0000"/><rect x="532" y="528" width="1" height="23" fill="#ff0000"/><rect x="539" y="526" width="1" height="25" fill="#ff0000"/><rect x="545" y="526" width="1" height="25" fill="#ff0000"/><rect x="552" y="526" width="1" height="25" fill="#ff0000"/><rect x="558" y="528" width="1" height="23" fill="#ff0000"/><rect x="565" y="530" width="1" height="21" fill="#ff0000"/><rect x="571" y="534" width="1" height="17" fill="#ff0000"/><rect x="577" y="535" width="1" height="16" fill="#ff0000"/><rect x="584" y="537" width="1" height="14" fill="#ff0000"/><rect x="590" y="548" width="1" height="3" fill="#ff0000"/><rect x="597" y="550" width="1" height="5" fill="#008000"/><rect x="603" y="550" width="1" height="6" fill="#008000"/><rect x="610" y="550" width="1" height="9" fill="#008000"/><rect x="616" y="550" width="1" height="11" fill="#008000"/><rect x="623" y="550" width="1" height="10" fill="#008000"/><rect x="629" y="550" width="1" height="8" fill="#008000"/><rect x="636" y="550" width="1" height="8" fill="#008000"/><rect x="642" y="550" width="1" height="9" fill="#008000"/><rect x="649" y="550" width="1" height="10" fill="#008000"/><rect x="655" y="550" width="1" height="11" fill="#008000"/><rect x="662" y="550" width="1" height="15" fill="#008000"/><rect x="668" y="550" width="1" height="15" fill="#008000"/><rect x="675" y="550" width="1" height="15" fill="#008000"/><rect x="681" y="550" width="1" height="16" fill="#008000"/><rect x="688" y="550" width="1" height="17" fill="#008000"/><rect x="694" y="550" width="1" height="16" fill="#008000"/><rect x="701" y="550" width="1" height="15" fill="#008000"/><rect x="707" y="550" width="1" height="10" fill="#008000"/><rect x="714" y="550" width="1" height="6" fill="#008000"/><rect x="720" y="550" width="1" height="4" fill="#008000"/><rect x="727" y="550" width="1" height="3" fill="#008000"/><rect x="733" y="550" width="1" height="2" fill="#008000"/><rect x="740" y="550" width="1" height="3" fill="#008000"/><rect x="746" y="550" width="1" height="4" fill="#008000"/><rect x="753" y="550" width="1" height="2" fill="#008000"/><rect x="759" y="548" width="1" height="3" fill="#ff0000"/><rect x="766" y="543" width="1" height="8" fill="#ff0000"/><rect x="772" y="541" width="1" height="10" fill="#ff0000"/><rect x="779" y="539" width="1" height="12" fill="#ff0000"/><rect x="785" y="542" width="1" height="9" fill="#ff0000"/><rect x="792" y="544" width="1" height="7" fill="#ff0000"/><rect x="798" y="543" width="1" height="8" fill="#ff0000"/><rect x="805" y="544" width="1" height="7" fill="#ff0000"/><rect x="811" y="547" width="1" height="4" fill="#ff0000"/><rect x="818" y="550" width="1" height="8" fill="#008000"/><rect x="824" y="550" width="1" height="13" fill="#008000"/><rect x="831" y="550" width="1" height="17" fill="#008000"/><rect x="837" y="550" width="1" height="18" fill="#008000"/><rect x="843" y="550" width="1" height="15" fill="#008000"/><rect x="850" y="550" width="1" height="20" fill="#008000"/><rect x="856" y="550" width="1" height="23" fill="#008000"/><rect x="863" y="550" width="1" height="26" fill="#008000"/><rect x="869" y="550" width="1" height="33" fill="#008000"/><rect x="876" y="550" width="1" height="32" fill="#008000"/><rect x="882" y="550" width="1" height="29" fill="#008000"/><rect x="889" y="550" width="1" height="25" fill="#008000"/><rect x="895" y="550" width="1" height="21" fill="#008000"/><rect x="902" y="550" width="1" height="19" fill="#008000"/><rect x="908" y="550" width="1" height="17" fill="#008000"/><rect x="915" y="550" width="1" height="11" fill="#008000"/><rect x="921" y="550" width="1" height="8" fill="#008000"/><rect x="928" y="550" width="1" height="11" fill="#008000"/><rect x="934" y="550" width="1" height="12" fill="#008000"/><rect x="941" y="550" width="1" height="7" fill="#008000"/><rect x="947" y="550" width="1" height="1" fill="#008000"/><rect x="954" y="547" width="1" height="4" fill="#ff0000"/><rect x="960" y="543" width="1" height="8" fill="#ff0000"/><rect x="967" y="540" width="1" height="11" fill="#ff0000"/><rect x="973" y="536" width="1" height="15" fill="#ff0000"/><rect x="980" y="533" width="1" height="18" fill="#ff0000"/><rect x="986" y="531" width="1" height="20" fill="#ff0000"/><rect x="993" y="531" width="1" height="20" fill="#ff0000"/><rect x="999" y="530" width="1" height="21" fill="#ff0000"/><rect x="1006" y="528" width="1" height="23" fill="#ff0000"/><rect x="1012" y="528" width="1" height="23" fill="#ff0000"/><rect x="1019" y="531" width="1" height="20" fill="#ff0000"/><rect x="1025" y="531" width="1" height="20" fill="#ff0000"/><rect x="1032" y="531" width="1" height="20" fill="#ff0000"/><rect x="1038" y="533" width="1" height="18" fill="#ff0000"/><rect x="1045" y="533" width="1" height="18" fill="#ff0000"/><rect x="1051" y="532" width="1" height="19" fill="#ff0000"/><rect x="1058" y="530" width="1" height="21" fill="#ff0000"/><rect x="1064" y="527" width="1" height="24" fill="#ff0000"/><rect x="1071" y="530" width="1" height="21" fill="#ff0000"/><rect x="1077" y="530" width="1" height="21" fill="#ff0000"/><rect x="1084" y="529" width="1" height="22" fill="#ff0000"/><rect x="1090" y="529" width="1" height="22" fill="#ff0000"/><rect x="1096" y="532" width="1" height="19" fill="#ff0000"/><rect x="1103" y="533" width="1" height="18" fill="#ff0000"/><rect x="1109" y="534" width="1" height="17" fill="#ff0000"/><rect x="1116" y="536" width="1" height="15" fill="#ff0000"/><rect x="1122" y="542" width="1" height="9" fill="#ff0000"/><rect x="1129" y="545" width="1" height="6" fill="#ff0000"/><rect x="1135" y="547" width="1" height="4" fill="#ff0000"/><rect x="1142" y="549" width="1" height="2" fill="#ff0000"/><rect x="1148" y="549" width="1" height="2" fill="#ff0000"/></g>
<text x="997 1029 1060 1092 1124" y="578" fill="#f00" font-size="27" font-family="'Liberation Serif', 'Noto Serif CJK SC', serif">赢家财富网</text>
<g shape-rendering="crispEdges"><path d="M65,526h6v1h-6zM71,525h12v1h-12zM83,524h12v1h-12zM95,523h19v1h-19zM114,522h21v1h-21zM135,521h12v1h-12zM147,520h11v1h-11zM158,519h10v1h-10zM168,518h18v1h-18zM186,519h4v1h-4zM190,520h6v1h-6zM196,521h17v1h-17zM213,522h6v1h-6zM219,523h3v1h-3zM222,524h4v1h-4zM226,525h3v1h-3zM229,526h2v1h-2zM231,527h3v1h-3zM234,528h2v1h-2zM236,529h2v1h-2zM238,530h2v1h-2zM240,531h2v1h-2zM242,532h1v1h-1zM243,533h2v1h-2zM245,534h2v1h-2zM247,535h1v1h-1zM248,536h1v1h-1zM249,537h1v1h-1zM250,538h1v1h-1zM251,539h1v1h-1zM252,540h1v1h-1zM253,541h1v1h-1zM254,542h2v1h-2zM256,543h1v1h-1zM257,544h1v1h-1zM258,545h2v1h-2zM260,546h1v1h-1zM261,547h2v1h-2zM263,548h2v1h-2zM265,549h2v1h-2zM267,550h2v1h-2zM269,551h2v1h-2zM271,552h2v1h-2zM273,553h1v1h-1zM274,554h2v1h-2zM276,555h1v1h-1zM277,556h2v1h-2zM279,557h2v1h-2zM281,558h2v1h-2zM283,559h2v1h-2zM285,560h3v1h-3zM288,561h3v1h-3zM291,562h5v1h-5zM296,563h6v1h-6zM302,564h2v1h-2zM304,565h5v1h-5zM309,566h4v1h-4zM313,567h2v1h-2zM315,568h2v1h-2zM317,569h5v1h-5zM322,570h4v1h-4zM326,571h2v1h-2zM328,572h2v1h-2zM330,573h2v1h-2zM332,574h2v1h-2zM334,575h2v1h-2zM336,576h3v1h-3zM339,577h4v1h-4zM343,578h3v1h-3zM346,579h4v1h-4zM350,580h4v1h-4zM354,581h6v1h-6zM360,582h13v1h-13zM373,581h5v1h-5zM378,580h4v1h-4zM382,579h4v1h-4zM386,578h7v1h-7zM393,577h5v1h-5zM398,576h5v1h-5zM403,575h5v1h-5zM408,574h5v1h-5zM413,573h6v1h-6zM419,572h5v1h-5zM424,571h3v1h-3zM427,570h4v1h-4zM431,569h3v1h-3zM434,568h3v1h-3zM437,567h2v1h-2zM439,566h3v1h-3zM442,565h3v1h-3zM445,564h2v1h-2zM447,563h3v1h-3zM450,562h2v1h-2zM452,561h3v1h-3zM455,560h3v1h-3zM458,559h2v1h-2zM460,558h3v1h-3zM463,557h3v1h-3zM466,556h4v1h-4zM470,555h3v1h-3zM473,554h3v1h-3zM476,553h3v1h-3zM479,552h4v1h-4zM483,551h3v1h-3zM486,550h3v1h-3zM489,549h3v1h-3zM492,548h4v1h-4zM496,547h3v1h-3zM499,546h4v1h-4zM503,545h4v1h-4zM507,544h4v1h-4zM511,543h4v1h-4zM515,542h3v1h-3zM518,541h2v1h-2zM520,540h2v1h-2zM522,539h2v1h-2zM524,538h3v1h-3zM527,537h2v1h-2zM529,536h2v1h-2zM531,535h3v1h-3zM534,534h2v1h-2zM536,533h2v1h-2zM538,532h2v1h-2zM540,531h2v1h-2zM542,530h2v1h-2zM544,529h2v1h-2zM546,528h2v1h-2zM548,527h2v1h-2zM550,526h3v1h-3zM553,525h2v1h-2zM555,524h2v1h-2zM557,523h3v1h-3zM560,522h3v1h-3zM563,521h3v1h-3zM566,520h4v1h-4zM570,519h3v1h-3zM573,518h3v1h-3zM576,517h3v1h-3zM579,516h3v1h-3zM582,515h22v1h-22zM604,516h5v1h-5zM609,517h3v1h-3zM612,518h4v1h-4zM616,519h4v1h-4zM620,520h4v1h-4zM624,521h5v1h-5zM629,522h7v1h-7zM636,523h10v1h-10zM646,524h6v1h-6zM652,525h2v1h-2zM654,526h3v1h-3zM657,527h2v1h-2zM659,528h4v1h-4zM663,529h4v1h-4zM667,530h4v1h-4zM671,531h4v1h-4zM675,532h2v1h-2zM677,533h3v1h-3zM680,534h2v1h-2zM682,535h3v1h-3zM685,536h4v1h-4zM689,537h4v1h-4zM693,538h3v1h-3zM696,539h4v1h-4zM700,540h4v1h-4zM704,541h5v1h-5zM709,542h10v1h-10zM719,543h15v1h-15zM734,544h28v1h-28zM762,543h7v1h-7zM769,542h5v1h-5zM774,541h3v1h-3zM777,540h5v1h-5zM782,539h6v1h-6zM788,538h7v1h-7zM795,537h10v1h-10zM805,536h9v1h-9zM814,537h4v1h-4zM818,538h4v1h-4zM822,539h4v1h-4zM826,540h3v1h-3zM829,541h3v1h-3zM832,542h4v1h-4zM836,543h3v1h-3zM839,544h3v1h-3zM842,545h3v1h-3zM845,546h2v1h-2zM847,547h3v1h-3zM850,548h3v1h-3zM853,549h2v1h-2zM855,550h2v1h-2zM857,551h2v1h-2zM859,552h1v1h-1zM860,553h2v1h-2zM862,554h1v1h-1zM863,555h1v1h-1zM864,556h2v1h-2zM866,557h1v1h-1zM867,558h2v1h-2zM869,559h1v1h-1zM870,560h2v1h-2zM872,561h2v1h-2zM874,562h2v1h-2zM876,563h2v1h-2zM878,564h2v1h-2zM880,565h2v1h-2zM882,566h2v1h-2zM884,567h2v1h-2zM886,568h2v1h-2zM888,569h2v1h-2zM890,570h2v1h-2zM892,571h2v1h-2zM894,572h3v1h-3zM897,573h3v1h-3zM900,574h4v1h-4zM904,575h3v1h-3zM907,576h5v1h-5zM912,577h6v1h-6zM918,578h6v1h-6zM924,579h4v1h-4zM928,580h4v1h-4zM932,581h9v1h-9zM941,582h15v1h-15zM956,581h4v1h-4zM960,580h4v1h-4zM964,579h5v1h-5zM969,578h4v1h-4zM973,577h4v1h-4zM977,576h4v1h-4zM981,575h2v1h-2zM983,574h2v1h-2zM985,573h2v1h-2zM987,572h2v1h-2zM989,571h2v1h-2zM991,570h3v1h-3zM994,569h2v1h-2zM996,568h2v1h-2zM998,567h2v1h-2zM1000,566h2v1h-2zM1002,565h2v1h-2zM1004,564h3v1h-3zM1007,563h2v1h-2zM1009,562h3v1h-3zM1012,561h3v1h-3zM1015,560h2v1h-2zM1017,559h3v1h-3zM1020,558h3v1h-3zM1023,557h4v1h-4zM1027,556h3v1h-3zM1030,555h3v1h-3zM1033,554h2v1h-2zM1035,553h3v1h-3zM1038,552h3v1h-3zM1041,551h2v1h-2zM1043,550h3v1h-3zM1046,549h2v1h-2zM1048,548h3v1h-3zM1051,547h3v1h-3zM1054,546h2v1h-2zM1056,545h3v1h-3zM1059,544h2v1h-2zM1061,543h2v1h-2zM1063,542h2v1h-2zM1065,541h2v1h-2zM1067,540h2v1h-2zM1069,539h3v1h-3zM1072,538h2v1h-2zM1074,537h3v1h-3zM1077,536h3v1h-3zM1080,535h2v1h-2zM1082,534h3v1h-3zM1085,533h3v1h-3zM1088,532h4v1h-4zM1092,531h3v1h-3zM1095,530h3v1h-3zM1098,529h2v1h-2zM1100,528h3v1h-3zM1103,527h3v1h-3zM1106,526h2v1h-2zM1108,525h5v1h-5zM1113,524h6v1h-6zM1119,523h6v1h-6zM1125,522h4v1h-4zM1129,521h4v1h-4zM1133,520h15v1h-15z" fill="#0000ff"/><path d="M65,524h9v1h-9zM74,523h18v1h-18zM92,522h15v1h-15zM107,521h14v1h-14zM121,520h14v1h-14zM135,519h12v1h-12zM147,518h22v1h-22zM169,517h4v1h-4zM173,516h4v1h-4zM177,517h4v1h-4zM181,518h3v1h-3zM184,519h2v1h-2zM186,520h2v1h-2zM188,521h2v1h-2zM190,522h3v1h-3zM193,523h3v1h-3zM196,524h3v1h-3zM199,525h5v1h-5zM204,524h14v1h-14zM218,525h2v1h-2zM220,526h2v1h-2zM222,527h1v1h-1zM223,528v2h1v-2zM224,530h1v1h-1zM225,531h1v1h-1zM226,532v2h1v-2zM227,534h1v1h-1zM228,535h1v1h-1zM229,536h1v1h-1zM230,537h2v1h-2zM232,538h1v1h-1zM233,539h1v1h-1zM234,540h1v1h-1zM235,541h1v1h-1zM236,542h1v1h-1zM237,543h2v1h-2zM239,544h1v1h-1zM240,545h1v1h-1zM241,546h2v1h-2zM243,547h1v1h-1zM244,548h1v1h-1zM245,549h2v1h-2zM247,550h1v1h-1zM248,551v2h1v-2zM249,553v2h1v-2zM250,555v2h1v-2zM251,557v2h1v-2zM252,559v2h1v-2zM253,561v2h1v-2zM254,562h1v1h-1zM255,563h2v1h-2zM257,564h2v1h-2zM259,565h2v1h-2zM261,566h2v1h-2zM263,567h1v1h-1zM264,568h2v1h-2zM266,569h4v1h-4zM270,570h13v1h-13zM283,569h19v1h-19zM302,570h2v1h-2zM304,571h2v1h-2zM306,572h2v1h-2zM308,573h1v1h-1zM309,574h1v1h-1zM310,575h2v1h-2zM312,576h2v1h-2zM314,577h3v1h-3zM317,578h5v1h-5zM322,579h4v1h-4zM326,580h2v1h-2zM328,581h2v1h-2zM330,582h2v1h-2zM332,583h2v1h-2zM334,584h1v1h-1zM335,585h2v1h-2zM337,586h4v1h-4zM341,587h7v1h-7zM348,586h11v1h-11zM359,585h3v1h-3zM362,584h3v1h-3zM365,583h4v1h-4zM369,582h2v1h-2zM371,581h1v1h-1zM372,580h1v1h-1zM373,579h2v1h-2zM375,578h1v1h-1zM376,577h2v1h-2zM378,576h2v1h-2zM380,575h2v1h-2zM382,574h3v1h-3zM385,573h3v1h-3zM388,572h5v1h-5zM393,571h11v1h-11zM404,570h5v1h-5zM409,569h4v1h-4zM413,568h10v1h-10zM423,567h2v1h-2zM425,566h1v1h-1zM426,565h2v1h-2zM428,564h1v1h-1zM429,563h2v1h-2zM431,562h2v1h-2zM433,561h2v1h-2zM435,560h1v1h-1zM436,559h2v1h-2zM438,558h1v1h-1zM439,557h2v1h-2zM441,556h2v1h-2zM443,555h2v1h-2zM445,554h2v1h-2zM447,553h2v1h-2zM449,552h2v1h-2zM451,551h1v1h-1zM452,550h2v1h-2zM454,549h8v1h-8zM462,548h2v1h-2zM464,547h2v1h-2zM466,546h10v1h-10zM476,545h3v1h-3zM479,544h3v1h-3zM482,543h4v1h-4zM486,542h4v1h-4zM490,541h7v1h-7zM497,540h5v1h-5zM502,539h3v1h-3zM505,538h3v1h-3zM508,537h4v1h-4zM512,536h2v1h-2zM514,535h2v1h-2zM516,534h1v1h-1zM517,533h2v1h-2zM519,532h1v1h-1zM520,531h2v1h-2zM522,530h2v1h-2zM524,529h2v1h-2zM526,528h1v1h-1zM527,527h1v1h-1zM528,526h2v1h-2zM530,525h1v1h-1zM531,524h1v1h-1zM532,523h2v1h-2zM534,522h2v1h-2zM536,521h2v1h-2zM538,520h2v1h-2zM540,519h2v1h-2zM542,518h2v1h-2zM544,517h2v1h-2zM546,516h2v1h-2zM548,515h2v1h-2zM550,514h3v1h-3zM553,513h4v1h-4zM557,512h4v1h-4zM561,511h7v1h-7zM568,510h6v1h-6zM574,509h6v1h-6zM580,508h4v1h-4zM584,509h1v1h-1zM585,510h1v1h-1zM586,511h2v1h-2zM588,512h1v1h-1zM589,513h1v1h-1zM590,514h1v1h-1zM591,515h2v1h-2zM593,516h2v1h-2zM595,517h2v1h-2zM597,518h5v1h-5zM602,519h2v1h-2zM604,520h2v1h-2zM606,521h3v1h-3zM609,522h2v1h-2zM611,523h3v1h-3zM614,524h5v1h-5zM619,525h14v1h-14zM633,526h3v1h-3zM636,527h3v1h-3zM639,528h4v1h-4zM643,529h5v1h-5zM648,530h4v1h-4zM652,531h2v1h-2zM654,532h3v1h-3zM657,533h2v1h-2zM659,534h3v1h-3zM662,535h3v1h-3zM665,536h3v1h-3zM668,537h3v1h-3zM671,538h2v1h-2zM673,539h2v1h-2zM675,540h2v1h-2zM677,541h3v1h-3zM680,542h3v1h-3zM683,543h4v1h-4zM687,544h3v1h-3zM690,545h3v1h-3zM693,546h5v1h-5zM698,547h6v1h-6zM704,546h7v1h-7zM711,545h18v1h-18zM729,544h3v1h-3zM732,543h3v1h-3zM735,544h4v1h-4zM739,545h4v1h-4zM743,546h11v1h-11zM754,545h2v1h-2zM756,544h2v1h-2zM758,543h2v1h-2zM760,542h2v1h-2zM762,541h2v1h-2zM764,540h3v1h-3zM767,539h2v1h-2zM769,538h2v1h-2zM771,537h2v1h-2zM773,536h2v1h-2zM775,535h2v1h-2zM777,534h5v1h-5zM782,535h13v1h-13zM795,534h7v1h-7zM802,533h6v1h-6zM808,534h4v1h-4zM812,535h1v1h-1zM813,536h1v1h-1zM814,537h1v1h-1zM815,538h1v1h-1zM816,539h1v1h-1zM817,540h1v1h-1zM818,541h2v1h-2zM820,542h1v1h-1zM821,543h1v1h-1zM822,544h2v1h-2zM824,545h1v1h-1zM825,546h2v1h-2zM827,547h1v1h-1zM828,548h2v1h-2zM830,549h2v1h-2zM832,550h4v1h-4zM836,551h3v1h-3zM839,552h3v1h-3zM842,553h2v1h-2zM844,554h2v1h-2zM846,555h1v1h-1zM847,556h1v1h-1zM848,557h2v1h-2zM850,558h1v1h-1zM851,559h2v1h-2zM853,560h1v1h-1zM854,561h2v1h-2zM856,562h1v1h-1zM857,563h1v1h-1zM858,564h1v1h-1zM859,565h2v1h-2zM861,566h1v1h-1zM862,567h1v1h-1zM863,568h1v1h-1zM864,569h1v1h-1zM865,570h1v1h-1zM866,571v2h1v-2zM867,573h1v1h-1zM868,574h1v1h-1zM869,575h2v1h-2zM871,576h2v1h-2zM873,577h2v1h-2zM875,578h3v1h-3zM878,579h3v1h-3zM881,580h3v1h-3zM884,581h4v1h-4zM888,582h11v1h-11zM899,583h5v1h-5zM904,584h3v1h-3zM907,585h3v1h-3zM910,584h4v1h-4zM914,583h4v1h-4zM918,582h5v1h-5zM923,583h2v1h-2zM925,584h2v1h-2zM927,585h3v1h-3zM930,586h3v1h-3zM933,587h4v1h-4zM937,586h4v1h-4zM941,585h2v1h-2zM943,584h2v1h-2zM945,583h2v1h-2zM947,582h2v1h-2zM949,581h3v1h-3zM952,580h2v1h-2zM954,579h2v1h-2zM956,578h2v1h-2zM958,577h2v1h-2zM960,576h2v1h-2zM962,575h3v1h-3zM965,574h2v1h-2zM967,573h2v1h-2zM969,572h2v1h-2zM971,571h2v1h-2zM973,570h1v1h-1zM974,569h2v1h-2zM976,568h2v1h-2zM978,567h2v1h-2zM980,566h2v1h-2zM982,565h2v1h-2zM984,564h2v1h-2zM986,563h2v1h-2zM988,562h3v1h-3zM991,561h2v1h-2zM993,560h2v1h-2zM995,559h2v1h-2zM997,558h2v1h-2zM999,557h1v1h-1zM1000,556h2v1h-2zM1002,555h2v1h-2zM1004,554h2v1h-2zM1006,553h2v1h-2zM1008,552h2v1h-2zM1010,551h2v1h-2zM1012,550h3v1h-3zM1015,549h7v1h-7zM1022,548h4v1h-4zM1026,547h2v1h-2zM1028,546h2v1h-2zM1030,545h5v1h-5zM1035,544h4v1h-4zM1039,543h2v1h-2zM1041,542h2v1h-2zM1043,541h3v1h-3zM1046,540h2v1h-2zM1048,539h2v1h-2zM1050,538h2v1h-2zM1052,537h2v1h-2zM1054,536h2v1h-2zM1056,535h2v1h-2zM1058,534h2v1h-2zM1060,533h2v1h-2zM1062,532h2v1h-2zM1064,531h3v1h-3zM1067,530h5v1h-5zM1072,529h2v1h-2zM1074,528h2v1h-2zM1076,527h2v1h-2zM1078,526h2v1h-2zM1080,525h2v1h-2zM1082,524h3v1h-3zM1085,523h2v1h-2zM1087,522h2v1h-2zM1089,521h4v1h-4zM1093,520h5v1h-5zM1098,519h4v1h-4zM1102,518h3v1h-3zM1105,517h3v1h-3zM1108,516h10v1h-10zM1118,517h3v1h-3zM1121,518h3v1h-3zM1124,519h4v1h-4zM1128,520h20v1h-20z" fill="#000000"/><rect x="1134" y="520" width="14" height="2" fill="#000"/></g>
<text x="-5" y="18.6" fill="#0000ff" font-size="12" font-family="'Liberation Sans', 'Noto Sans CJK SC', sans-serif">日K线</text>
<text x="63" y="26.5" fill="#000" font-size="13" textLength="51.5" lengthAdjust="spacingAndGlyphs" font-family="'Liberation Sans', 'Noto Sans CJK SC', sans-serif">移动均线</text>
<text x="1100" y="27" fill="#0000ff" font-size="13" textLength="51.5" lengthAdjust="spacingAndGlyphs" font-family="'Liberation Sans', 'Noto Sans CJK SC', sans-serif">上证指数</text>
</svg></body></html>
